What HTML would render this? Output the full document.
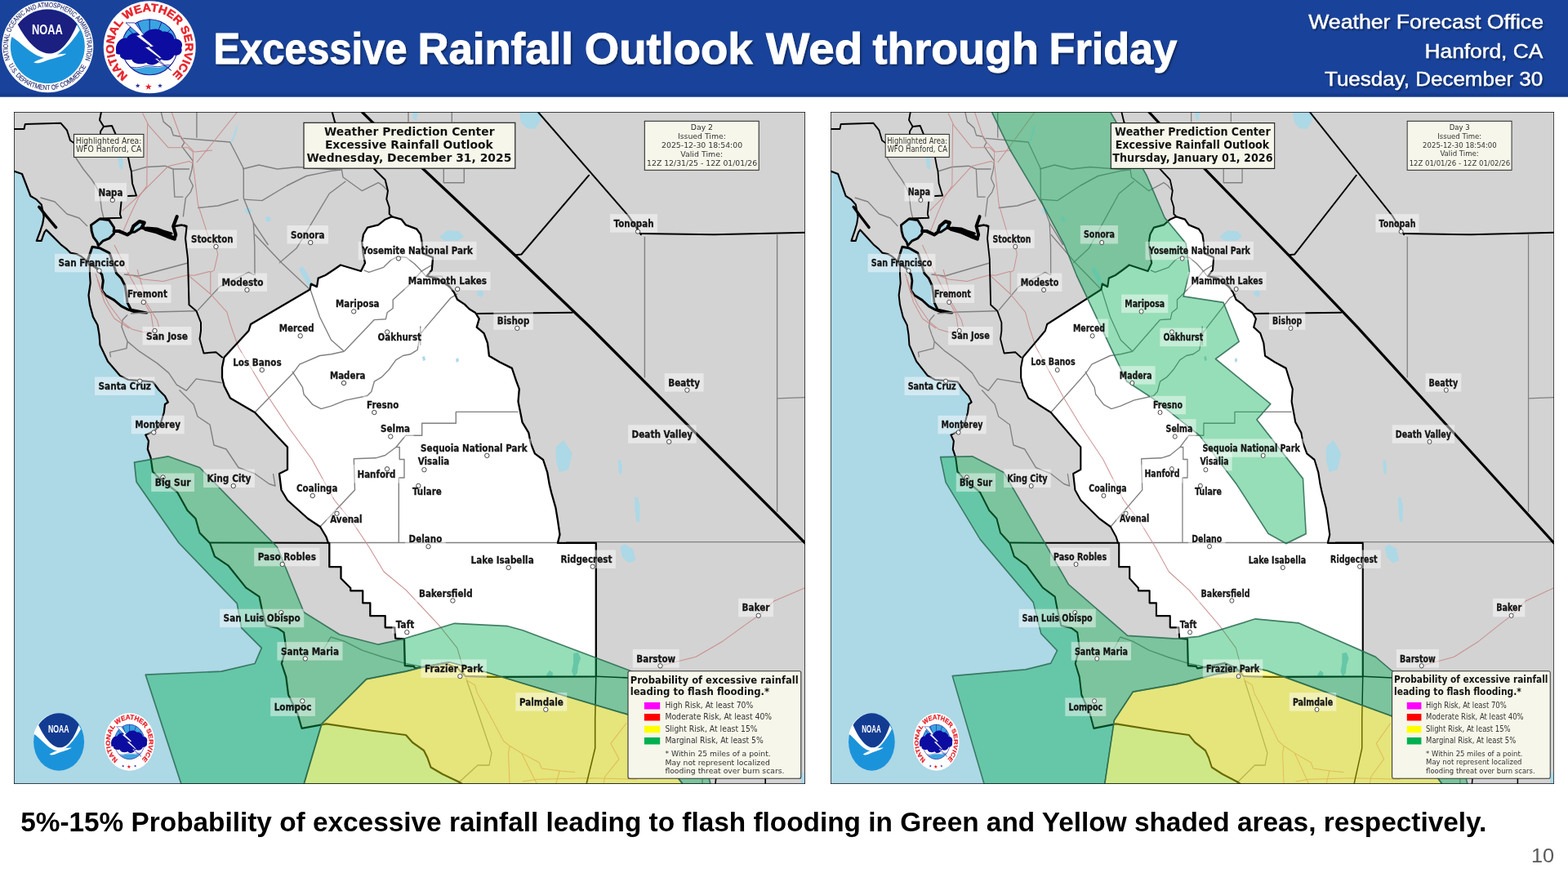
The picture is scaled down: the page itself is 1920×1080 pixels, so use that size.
<!DOCTYPE html>
<html><head><meta charset="utf-8"><title>Excessive Rainfall Outlook Wed through Friday</title>
<style>
html,body{margin:0;padding:0;}
body{width:1920px;height:1080px;position:relative;overflow:hidden;background:#ffffff;font-family:"Liberation Sans",sans-serif;}
.abs{position:absolute;display:block;}
</style></head>
<body>
<svg class="abs" style="left:0;top:0" width="1920" height="120" viewBox="0 0 1920 120">
  <defs><filter id="tsh" x="-5%" y="-20%" width="110%" height="150%"><feDropShadow dx="1.5" dy="2" stdDeviation="1.2" flood-color="#000" flood-opacity="0.45"/></filter></defs>
  <rect x="0" y="0" width="1920" height="118.5" fill="#19439b"/>
  <rect x="0" y="114.5" width="1920" height="4" fill="#143a8c"/>
  <g transform="translate(58.3,57.3)">
<circle r="56" fill="#ffffff"/>
<defs><path id="noaaTop" d="M-45.95,15.82 A48.6,48.6 0 1 1 45.67,16.62"/><path id="noaaBot" d="M-47.85,22.31 A52.8,52.8 0 0 0 47.46,23.15"/></defs>
<text font-family="Liberation Sans, sans-serif" font-size="8.4" fill="#262d6e" stroke="#262d6e" stroke-width="0.15"><textPath href="#noaaTop" textLength="184.8" lengthAdjust="spacingAndGlyphs">NATIONAL OCEANIC AND ATMOSPHERIC ADMINISTRATION</textPath></text>
<text font-family="Liberation Sans, sans-serif" font-size="8.4" fill="#262d6e" stroke="#262d6e" stroke-width="0.15"><textPath href="#noaaBot" textLength="117.9" lengthAdjust="spacingAndGlyphs">U.S. DEPARTMENT OF COMMERCE</textPath></text>
</g>
<g transform="translate(58.3,56.699999999999996) scale(1.0000,1.0000)">
  <circle r="45.5" fill="#1b93da"/>
  <path d="M-45,-12.3 C-34,-7 -18,14 0,14.5 C12,14 28,-2 39.5,-20 A45.5,45.5 0 0 0 -45,-12.3 Z" fill="#ffffff"/>
  <path d="M-36.6,-26.7 C-30,-14 -16,8 1.7,8.9 C18,9 30,-12 36.1,-27.3 A45.5,45.5 0 0 0 -36.6,-26.7 Z" fill="#1a1f80"/>
  <path d="M-17,19.5 C-6,13.5 8,9.5 23,9 C19,12.5 6,14.5 -4,18.5 C-9,20.5 -14,21.5 -17,19.5 Z" fill="#ffffff"/>
  <text x="-0.5" y="-15" text-anchor="middle" font-family="Liberation Sans, sans-serif" font-weight="bold" font-size="16" fill="#ffffff" textLength="37.8" lengthAdjust="spacingAndGlyphs">NOAA</text>
</g>
  <g transform="translate(183.2,57.7) scale(1.0000,1.0000)">
  <circle r="56.5" fill="#ffffff"/>
  <clipPath id="nwshc"><circle r="34"/></clipPath>
  <g clip-path="url(#nwshc)">
    <rect x="-35" y="-35" width="70" height="70" fill="#ffffff"/>
    <rect x="-35" y="-35" width="70" height="30" fill="#3aa4e0"/>
    <path d="M-35,27 C-26,23 -18,28 -9,25 C0,22 8,27 16,24 C24,21 30,25 35,23 L35,35 L-35,35 Z" fill="#3aa4e0"/>
    <path d="M-35,26 C-26,22 -18,27 -9,24 C0,21 8,26 16,23 C24,20 30,24 35,22" fill="none" stroke="#1b1b9a" stroke-width="0.8"/>
    <g stroke="#1b1b9a" stroke-width="1" fill="none"><path d="M0,-34 L0,-20"/><path d="M-15,-31 L-10,-19"/><path d="M15,-31 L10,-19"/><path d="M-26,-22 L-18,-14"/><path d="M26,-22 L18,-14"/></g>
  </g>
  <circle r="34" fill="none" stroke="#1b1b9a" stroke-width="1.1"/>
  <path d="M-41,6 C-43,-4 -36,-12 -28,-11 C-24,-18 -14,-19 -8,-15 C-4,-22 10,-25 16,-19 C22,-20 30,-16 30,-10 C37,-11 42,-5 39,1 C41,7 36,11 30,10 C28,16 20,18 14,15 C10,22 0,24 -4,19 C-10,22 -20,21 -22,15 C-28,17 -38,14 -36,9 C-40,9 -42,8 -41,6 Z" fill="#0c0ca0"/>
  <path d="M-29.2,-29.8 L-18.3,-29.8 L-6.9,-15.1 L-10.1,-14 L5.2,-0.9 L-0.3,0.2 L15,13.3 L9.5,14.4 L26.5,28.6 L6.3,14.4 L11.7,13.3 L-5.8,0.2 L0.8,-0.9 L-16.7,-14 L-12.3,-15.1 Z" fill="#ffffff" stroke="#1b1b9a" stroke-width="0.8" stroke-linejoin="round"/>
  <defs><path id="nwshT" d="M-26.36,34.98 A43.8,43.8 0 1 1 26.36,34.98"/></defs>
  <text font-family="Liberation Sans, sans-serif" font-weight="bold" font-size="13.6" fill="#e8232b" stroke="#e8232b" stroke-width="0.5"><textPath href="#nwshT" textLength="216.6" lengthAdjust="spacingAndGlyphs">NATIONAL WEATHER SERVICE</textPath></text>
  <g fill="#2b2b9c"><path d="M-14.5,44.4 L-13.8,46.3 L-11.7,46.4 L-13.3,47.7 L-12.8,49.6 L-14.5,48.5 L-16.2,49.6 L-15.7,47.7 L-17.3,46.4 L-15.2,46.3 Z"/><path d="M12.8,44.4 L13.5,46.3 L15.6,46.4 L14.0,47.7 L14.5,49.6 L12.8,48.5 L11.1,49.6 L11.6,47.7 L10.0,46.4 L12.1,46.3 Z"/></g>
  <path d="M-1.4,44.4 L-0.4,47.2 L2.6,47.3 L0.3,49.1 L1.1,52.0 L-1.4,50.4 L-3.9,52.0 L-3.1,49.1 L-5.4,47.3 L-2.4,47.2 Z" fill="#e8232b"/>
</g>
  <g font-family="Liberation Sans, sans-serif" font-weight="bold" font-size="53.4" fill="#ffffff" stroke="#ffffff" stroke-width="0.9" filter="url(#tsh)"><text x="261.4" y="78" textLength="237.2" lengthAdjust="spacingAndGlyphs">Excessive</text><text x="511.4" y="78" textLength="190.4" lengthAdjust="spacingAndGlyphs">Rainfall</text><text x="715.8" y="78" textLength="205.8" lengthAdjust="spacingAndGlyphs">Outlook</text><text x="938.0" y="78" textLength="118.2" lengthAdjust="spacingAndGlyphs">Wed</text><text x="1068.5" y="78" textLength="203.3" lengthAdjust="spacingAndGlyphs">through</text><text x="1284.5" y="78" textLength="156.7" lengthAdjust="spacingAndGlyphs">Friday</text></g>
  <g font-family="Liberation Sans, sans-serif" font-size="24.4" fill="#ffffff" stroke="#ffffff" stroke-width="0.35" text-anchor="end" filter="url(#tsh)">
    <text x="1890" y="35" textLength="287.8" lengthAdjust="spacingAndGlyphs">Weather Forecast Office</text>
    <text x="1889.2" y="70.5" textLength="144.6" lengthAdjust="spacingAndGlyphs">Hanford, CA</text>
    <text x="1889.2" y="104.5" textLength="267.2" lengthAdjust="spacingAndGlyphs">Tuesday, December 30</text>
  </g>
</svg>
<svg class="abs" style="left:17px;top:137px" width="969" height="823" viewBox="17 137 969 823" preserveAspectRatio="none">
<defs><clipPath id="clipL"><rect x="17" y="137" width="969" height="823"/></clipPath><filter id="softL" x="0" y="0" width="1" height="1" filterUnits="objectBoundingBox"><feConvolveMatrix order="3" kernelMatrix="1 3 1 3 9 3 1 3 1" divisor="25" edgeMode="duplicate" preserveAlpha="false"/></filter></defs>
<g><g clip-path="url(#clipL)" font-family="DejaVu Sans, sans-serif">
<rect x="17" y="137" width="969" height="823" fill="#d3d3d3"/>
<path d="M17.0,209.5 L27.0,213.0 L37.4,240.0 L44.8,244.4 L50.7,250.4 L52.2,257.8 L53.7,265.2 L52.2,274.1 L49.3,283.0 L44.8,294.8 L50.7,294.8 L52.2,290.4 L54.4,284.4 L56.7,281.5 L59.6,284.4 L64.1,288.9 L74.4,299.3 L81.9,305.2 L86.3,309.6 L93.7,311.1 L99.6,314.1 L107.0,320.0 L110.0,325.9 L110.0,336.3 L110.7,346.7 L108.5,361.5 L110.0,373.3 L114.0,388.1 L119.5,398.0 L121.5,410.0 L122.5,422.5 L132.0,442.5 L147.0,460.0 L157.0,465.0 L172.0,466.2 L187.0,467.5 L194.5,477.5 L202.0,485.0 L205.8,492.5 L202.0,495.0 L200.8,505.0 L197.0,517.5 L189.5,527.5 L178.2,532.5 L182.0,540.0 L180.8,550.0 L184.5,560.0 L187.0,577.5 L197.0,587.5 L217.0,602.5 L229.5,625.0 L239.5,635.0 L244.5,652.5 L257.0,665.0 L262.9,681.4 L279.3,692.3 L301.2,719.6 L317.5,730.6 L320.3,744.2 L325.8,766.1 L339.4,768.8 L347.6,774.3 L350.3,793.4 L344.8,812.5 L350.3,828.9 L353.1,850.8 L364.0,872.7 L369.5,891.8 L399.5,886.3 L454.2,894.5 L497.0,900.0 L505.0,909.0 L519.0,919.0 L523.5,928.0 L527.5,939.5 L542.0,948.0 L561.0,957.0 L566.0,960.0 L567.0,968.0 L8.0,968.0 L8.0,209.5 Z" fill="#add8e6"/>
<path d="M111.5,275.6 L121.9,268.1 L133.7,269.6 L139.6,278.5 L139.6,285.9 L133.7,291.9 L126.3,294.8 L120.4,300.7 L118.9,296.3 L114.4,290.4 L112.2,283.0 Z" fill="#add8e6" stroke="#000" stroke-width="3.0" stroke-linejoin="round"/>
<path d="M110.0,311.1 L113.0,302.2 L121.9,303.7 L133.7,309.6 L135.2,312.6 L142.6,334.8 L148.5,340.7 L153.0,349.6 L154.4,358.5 L155.9,370.4 L160.4,379.3 L179.6,383.0 L166.3,382.2 L157.4,379.3 L148.5,374.8 L139.6,367.4 L129.3,361.5 L124.8,355.6 L126.3,343.7 L124.8,336.3 L118.9,328.9 L111.5,323.0 L107.0,320.0 Z" fill="#add8e6" stroke="#000" stroke-width="3.0" stroke-linejoin="round"/>
<path d="M160.4,284.4 L163.3,277.0 L170.7,271.1 L176.7,272.6 L173.7,278.5 L165.0,284.0 Z" fill="#add8e6" stroke="#000" stroke-width="3.0" stroke-linejoin="round"/>
<path d="M272.0,450.0 L274.5,437.5 L304.5,405.0 L307.0,397.0 L379.5,354.5 L380.9,347.6 L388.0,351.1 L389.7,340.6 L398.5,337.0 L409.1,330.0 L417.0,324.5 L442.0,332.0 L447.0,322.0 L445.0,312.0 L443.3,297.0 L445.0,287.0 L450.0,278.7 L463.3,275.3 L471.7,268.7 L480.0,265.3 L491.7,268.7 L496.7,275.3 L510.0,280.3 L515.0,287.0 L516.7,297.0 L517.4,310.2 L530.1,315.3 L528.8,330.6 L522.5,338.2 L535.2,340.8 L550.5,351.0 L556.0,358.0 L560.0,366.7 L568.9,372.6 L574.8,378.5 L582.2,383.0 L586.7,390.4 L583.7,400.7 L592.6,408.1 L597.0,420.0 L598.9,435.7 L611.6,443.3 L626.9,450.9 L632.0,466.2 L635.8,476.4 L634.5,491.7 L637.1,504.4 L639.6,517.2 L647.3,529.9 L649.8,542.6 L654.9,555.4 L665.1,563.0 L670.2,578.3 L672.8,593.6 L675.3,603.8 L680.4,621.6 L682.9,636.9 L685.5,654.7 L682.9,664.9 L729.8,664.9 L729.8,828.3 L606.3,828.9 L570.0,828.0 L560.0,818.0 L545.0,812.0 L524.0,816.0 L508.3,818.3 L506.7,815.8 L495.8,815.0 L495.0,782.5 L484.2,781.7 L483.3,768.3 L471.7,768.3 L471.7,754.2 L453.3,754.2 L453.3,738.3 L444.2,738.3 L444.2,723.3 L429.2,723.3 L429.2,720.0 L417.5,708.3 L417.5,694.2 L403.3,694.2 L403.3,665.0 L402.0,665.0 L399.5,657.5 L392.0,645.0 L377.0,635.0 L352.0,612.5 L344.5,600.0 L342.0,580.0 L352.0,575.0 L352.0,547.5 L312.0,505.0 L282.0,487.5 L274.5,472.5 L272.0,462.5 Z" fill="#ffffff"/>
<path d="M680.4,548.0 L690.0,538.8 L700.8,555.0 L696.0,575.0 L685.0,578.3 L681.0,565.0 Z" fill="#add8e6"/>
<path d="M537.8,290.0 L548.0,282.2 L562.0,283.0 L568.3,290.0 L560.0,295.0 L545.0,295.0 Z" fill="#add8e6"/>
<path d="M636.0,137.0 L663.0,137.0 L662.0,148.0 L655.0,158.0 L645.0,157.0 L638.0,150.0 Z" fill="#add8e6"/>
<path d="M759.3,670.0 L765.0,666.4 L775.0,672.0 L778.4,686.0 L770.0,689.6 L762.0,682.0 Z" fill="#add8e6"/>
<path d="M281.0,176.0 L285.0,168.0 L289.0,155.0 L291.0,152.0 L290.0,160.0 L286.0,172.0 Z" fill="#add8e6"/>
<path d="M505.0,137.0 L511.7,137.0 L510.0,147.0 L506.0,146.0 Z" fill="#add8e6"/>
<path d="M702.0,800.0 L708.0,799.0 L711.0,806.0 L708.0,815.0 L707.0,824.0 L703.0,829.0 L700.0,822.0 L702.0,812.0 Z" fill="#add8e6"/>
<path d="M669.0,826.0 L673.0,820.7 L677.0,824.0 L676.0,831.7 L671.0,831.0 Z" fill="#add8e6"/>
<path d="M144.0,190.0 L148.0,188.0 L151.0,198.0 L150.0,208.0 L146.0,205.0 Z" fill="#add8e6"/>
<path d="M583.7,357.0 L590.0,355.0 L592.6,360.0 L589.0,363.7 L585.0,362.0 Z" fill="#add8e6"/>
<path d="M299.5,256.0 L305.0,254.5 L309.5,258.0 L306.0,262.0 L301.0,261.0 Z" fill="#add8e6"/>
<path d="M325.0,266.0 L329.0,264.5 L332.0,268.0 L330.0,272.0 L326.0,271.0 Z" fill="#add8e6"/>
<path d="M366.0,330.0 L370.0,326.0 L376.0,334.0 L381.0,345.0 L379.0,352.0 L374.0,344.0 Z" fill="#add8e6"/>
<path d="M980.0,946.0 L987.0,946.0 L987.0,961.0 L981.0,961.0 Z" fill="#add8e6"/>
<path d="M757.0,563.0 L760.0,563.0 L762.0,572.0 L761.0,581.0 L758.0,580.0 L757.0,571.0 Z" fill="#add8e6"/>
<path d="M777.0,609.0 L781.0,608.9 L783.6,620.0 L783.0,639.4 L779.0,638.0 L777.5,624.0 Z" fill="#add8e6"/>
<path d="M517.0,437.0 L520.0,436.0 L521.0,441.0 L518.0,442.0 Z" fill="#add8e6"/>
<path d="M558.0,440.0 L561.0,438.0 L562.0,442.0 L559.0,444.0 Z" fill="#add8e6"/>
<g fill="none" stroke="#808080" stroke-linejoin="round">
<path d="M49.5,242.0 L67.0,247.0 L82.0,262.0 L97.0,267.0 L107.0,277.0" stroke-width="1.40"/>
<path d="M92.0,192.0 L102.0,207.0 L112.0,219.5 L117.0,227.0 L122.0,237.0 L124.5,257.0 L127.0,267.0" stroke-width="1.40"/>
<path d="M162.0,209.5 L179.5,204.5 L202.0,203.2 L212.0,207.0 L232.0,207.0" stroke-width="1.40"/>
<path d="M212.0,207.0 L213.8,241.1 L224.3,241.1" stroke-width="1.40"/>
<path d="M240.9,137.0 L240.9,168.7" stroke-width="1.40"/>
<path d="M224.3,169.4 L281.7,174.0 L298.3,206.4 L298.3,242.6 L310.3,272.8 L311.8,300.0 L312.0,337.0" stroke-width="1.40"/>
<path d="M310.3,272.8 L328.4,300.0" stroke-width="1.40"/>
<path d="M297.0,207.0 L317.0,202.0 L339.5,207.0 L364.5,204.5 L417.0,208.2" stroke-width="1.40"/>
<path d="M242.0,254.5 L267.0,252.0 L292.0,244.5" stroke-width="1.40"/>
<path d="M197.2,137.0 L200.2,149.1 L209.2,156.6 L212.3,165.7 L221.3,167.2 L225.8,174.7 L222.8,179.3 L227.3,185.3 L231.9,191.3 L236.4,197.4 L234.9,207.9 L231.9,218.5 L236.4,227.5 L233.4,235.1 L227.3,242.6 L224.3,265.3" stroke-width="1.40"/>
<path d="M298.3,244.1 L320.9,245.6 L351.1,227.5 L375.2,215.5 L405.4,209.4 L419.0,207.9" stroke-width="1.40"/>
<path d="M418.3,207.0 L420.0,217.0 L443.3,233.7 L463.3,223.7 L468.3,227.0 L475.0,233.7" stroke-width="1.40"/>
<path d="M423.3,222.0 L403.3,237.0 L383.3,270.3 L363.3,303.7 L342.0,322.0" stroke-width="1.40"/>
<path d="M312.0,287.0 L345.0,322.0 L379.5,354.5" stroke-width="1.40"/>
<path d="M543.3,207.0 L543.3,223.7 L568.3,223.7 L568.3,207.0" stroke-width="1.40"/>
<path d="M553.3,137.0 L553.3,149.5" stroke-width="1.40"/>
<path d="M500.0,137.0 L500.0,149.5" stroke-width="1.40"/>
<path d="M789.4,289.8 L789.4,462.4" stroke-width="1.40"/>
<path d="M951.6,287.3 L951.6,626.7" stroke-width="1.40"/>
<path d="M951.6,487.9 L986.0,486.6" stroke-width="1.40"/>
<path d="M693.1,663.6 L986.0,663.6" stroke-width="1.40"/>
<path d="M860.0,940.0 L860.0,960.0" stroke-width="1.40"/>
<path d="M156.1,385.6 L150.1,391.7 L148.9,400.1 L152.5,409.7 L156.1,418.1 L154.9,426.6 L134.4,431.4 L135.6,437.4" stroke-width="1.40"/>
<path d="M156.1,418.1 L170.5,430.2 L192.2,444.6 L206.6,456.6 L216.3,471.1 L228.3,478.3 L240.3,463.9 L247.6,465.1 L271.6,468.7" stroke-width="1.40"/>
<path d="M219.5,477.5 L237.0,495.0 L242.0,510.0 L257.0,520.0 L262.0,545.0 L277.0,550.0 L292.0,572.5 L312.0,580.0 L329.5,592.5 L337.0,595.0 L334.5,580.0" stroke-width="1.40"/>
<path d="M160.0,384.0 L188.6,382.0 L240.3,380.8" stroke-width="1.40"/>
<path d="M152.0,336.0 L170.0,338.0 L200.0,330.0 L230.0,322.0" stroke-width="1.40"/>
<path d="M312.0,505.0 L359.5,456.2 L366.8,446.1 L391.5,435.5 L405.5,433.8 L421.4,430.3" stroke-width="1.40"/>
<path d="M380.0,354.6 L391.5,388.0 L405.5,416.2 L421.4,430.3" stroke-width="1.40"/>
<path d="M421.4,430.3 L458.3,391.6 L472.4,390.7 L474.1,382.8 L481.2,377.5 L481.2,366.9 L498.8,351.1 L516.4,331.8 L528.0,325.0" stroke-width="1.40"/>
<path d="M358.0,454.9 L370.4,474.2 L372.1,483.0 L382.7,495.3 L393.2,500.6 L405.5,497.1 L423.1,490.1 L449.5,484.8 L454.8,479.5 L458.3,467.2 L467.1,461.9 L475.9,453.1 L484.7,440.8 L493.5,435.5 L502.3,433.8 L511.1,428.5 L514.6,409.2 L514.8,400.0 L514.8,422.9" stroke-width="1.40"/>
<path d="M514.6,409.2 L521.6,400.4 L551.5,365.2 L560.0,359.9" stroke-width="1.40"/>
<path d="M392.0,645.0 L434.5,600.0 L433.3,561.7 L460.0,560.8 L471.7,557.5 L485.0,547.5 L489.2,547.5 L489.2,562.5 L495.0,562.5 L495.0,585.0 L488.3,585.0 L488.3,665.0" stroke-width="1.40"/>
<path d="M485.0,547.5 L496.7,533.3 L516.7,533.3 L516.7,518.3 L558.3,518.3 L558.3,504.4 L634.5,504.4" stroke-width="1.40"/>
<path d="M402.0,664.5 L682.9,664.5" stroke-width="1.40"/>
<path d="M571.5,833.0 L587.0,878.0 L602.0,922.0 L599.0,937.0 L585.0,937.0 L563.0,957.0 L561.0,960.0" stroke-width="1.26"/>
<path d="M242.2,380.0 L268.9,351.1 L304.4,333.3 L311.1,336.7" stroke-width="1.40"/>
<path d="M445.6,330.9 L451.7,333.3 L469.7,327.3 L478.1,318.9 L486.6,314.1 L497.4,315.3 L507.0,322.5 L514.2,329.7 L521.5,338.1 L540.7,338.1 L545.5,345.4 L550.3,352.6" stroke-width="1.40"/>
<path d="M405.0,780.0 L421.4,785.2 L443.2,796.1 L470.0,805.0 L497.0,812.5 L520.0,817.0" stroke-width="1.40"/>
<path d="M405.0,780.0 L398.0,792.0 L392.0,806.0" stroke-width="1.40"/>
</g>
<g fill="none" stroke="#c98e8e" stroke-linejoin="round">
<path d="M236.4,200.4 L242.4,250.2 L254.5,287.9 L264.4,302.0 L266.7,311.1 L262.2,331.1 L257.8,333.3 L257.8,360.0 L277.8,382.2 L283.0,400.0 L292.0,425.0 L329.5,487.5 L354.5,525.0 L382.0,562.5 L409.5,612.5 L432.0,640.0 L452.0,670.0 L470.0,700.0 L497.0,722.4 L538.0,766.1 L559.8,793.4 L571.5,833.0 L581.7,839.0 L584.6,849.2 L593.3,863.8 L605.0,885.6 L616.7,907.5 L624.0,913.3 L638.5,922.1 L660.4,933.8 L663.3,941.0 L686.7,944.0 L704.2,945.4" stroke-width="1.03"/>
<path d="M624.0,913.3 L622.5,922.1 L624.0,960.0" stroke-width="1.03"/>
<path d="M638.5,922.1 L653.1,951.3 L657.5,960.0" stroke-width="1.03"/>
<path d="M640.0,957.0 L657.5,954.2 L718.8,952.7 L780.0,954.2" stroke-width="1.03"/>
<path d="M685.2,944.0 L680.8,960.0" stroke-width="1.03"/>
<path d="M766.9,885.6 L747.9,910.4 L758.1,929.4 L740.6,951.3 L739.2,960.0" stroke-width="1.03"/>
<path d="M155.0,335.0 L175.0,342.0 L200.0,344.4 L216.7,340.0 L230.0,336.7 L237.8,337.2 L257.8,332.2" stroke-width="1.03"/>
<path d="M230.0,336.7 L257.8,360.0" stroke-width="1.03"/>
<path d="M170.0,239.6 L206.2,203.4 L231.9,197.4 L236.4,200.4" stroke-width="1.03"/>
<path d="M150.0,258.0 L170.0,239.6" stroke-width="1.03"/>
<path d="M290.7,137.0 L260.5,174.7 L240.9,198.9" stroke-width="1.03"/>
<path d="M174.5,138.5 L182.1,153.6 L206.2,180.8 L230.4,180.8 L236.4,186.0 L236.4,200.4" stroke-width="1.03"/>
<path d="M180.6,152.1 L179.8,227.5 L170.0,241.1 L160.0,262.0 L150.0,285.0" stroke-width="1.03"/>
<path d="M140.0,300.0 L150.0,320.0 L160.0,340.0 L170.0,358.0 L177.8,372.4 L185.0,384.4 L187.4,400.1 L189.2,404.9" stroke-width="1.03"/>
<path d="M117.0,335.0 L123.7,353.3 L133.7,373.3 L148.7,393.3 L162.0,403.3 L175.3,406.7 L188.6,406.1" stroke-width="1.03"/>
<path d="M119.0,342.0 L128.0,370.0 L140.0,390.0 L158.0,402.0" stroke-width="1.03"/>
<path d="M168.0,330.0 L174.0,350.0 L180.2,372.4 L192.2,391.7 L194.6,400.1" stroke-width="1.03"/>
<path d="M210.0,137.0 L222.0,170.0 L238.0,186.0 L260.0,184.0" stroke-width="1.03"/>
<path d="M808.5,815.3 L852.2,804.3 L885.0,785.2 L915.0,763.4 L928.7,753.8 L947.8,736.0 L986.0,719.6" stroke-width="1.03"/>
</g>
<g fill="none" stroke="#000" stroke-linejoin="round" stroke-linecap="round">
<path d="M17.0,209.5 L27.0,213.0 L37.4,240.0 L44.8,244.4 L50.7,250.4 L52.2,257.8 L53.7,265.2 L52.2,274.1 L49.3,283.0 L44.8,294.8 L50.7,294.8 L52.2,290.4 L54.4,284.4 L56.7,281.5 L59.6,284.4 L64.1,288.9 L74.4,299.3 L81.9,305.2 L86.3,309.6 L93.7,311.1 L99.6,314.1 L107.0,320.0 L110.0,325.9 L110.0,336.3 L110.7,346.7 L108.5,361.5 L110.0,373.3 L114.0,388.1 L119.5,398.0 L121.5,410.0 L122.5,422.5 L132.0,442.5 L147.0,460.0 L157.0,465.0 L172.0,466.2 L187.0,467.5 L194.5,477.5 L202.0,485.0 L205.8,492.5 L202.0,495.0 L200.8,505.0 L197.0,517.5 L189.5,527.5 L178.2,532.5 L182.0,540.0 L180.8,550.0 L184.5,560.0 L187.0,577.5 L197.0,587.5 L217.0,602.5 L229.5,625.0 L239.5,635.0 L244.5,652.5 L257.0,665.0 L262.9,681.4 L279.3,692.3 L301.2,719.6 L317.5,730.6 L320.3,744.2 L325.8,766.1 L339.4,768.8 L347.6,774.3 L350.3,793.4 L344.8,812.5 L350.3,828.9 L353.1,850.8 L364.0,872.7 L369.5,891.8 L399.5,886.3 L454.2,894.5 L497.0,900.0 L505.0,909.0 L519.0,919.0 L523.5,928.0 L527.5,939.5 L542.0,948.0 L561.0,957.0 L566.0,960.0" stroke-width="2.2"/>
<path d="M272.0,450.0 L274.5,437.5 L304.5,405.0 L307.0,397.0 L379.5,354.5 L380.9,347.6 L388.0,351.1 L389.7,340.6 L398.5,337.0 L409.1,330.0 L417.0,324.5 L442.0,332.0 L447.0,322.0 L445.0,312.0 L443.3,297.0 L445.0,287.0 L450.0,278.7 L463.3,275.3 L471.7,268.7 L480.0,265.3 L491.7,268.7 L496.7,275.3 L510.0,280.3 L515.0,287.0 L516.7,297.0 L517.4,310.2 L530.1,315.3 L528.8,330.6 L522.5,338.2 L535.2,340.8 L550.5,351.0 L556.0,358.0 L560.0,366.7 L568.9,372.6 L574.8,378.5 L582.2,383.0 L586.7,390.4 L583.7,400.7 L592.6,408.1 L597.0,420.0 L598.9,435.7 L611.6,443.3 L626.9,450.9 L632.0,466.2 L635.8,476.4 L634.5,491.7 L637.1,504.4 L639.6,517.2 L647.3,529.9 L649.8,542.6 L654.9,555.4 L665.1,563.0 L670.2,578.3 L672.8,593.6 L675.3,603.8 L680.4,621.6 L682.9,636.9 L685.5,654.7 L682.9,664.9 L729.8,664.9 L729.8,828.3 L606.3,828.9 L570.0,828.0 L560.0,818.0 L545.0,812.0 L524.0,816.0 L508.3,818.3 L506.7,815.8 L495.8,815.0 L495.0,782.5 L484.2,781.7 L483.3,768.3 L471.7,768.3 L471.7,754.2 L453.3,754.2 L453.3,738.3 L444.2,738.3 L444.2,723.3 L429.2,723.3 L429.2,720.0 L417.5,708.3 L417.5,694.2 L403.3,694.2 L403.3,665.0 L402.0,665.0 L399.5,657.5 L392.0,645.0 L377.0,635.0 L352.0,612.5 L344.5,600.0 L342.0,580.0 L352.0,575.0 L352.0,547.5 L312.0,505.0 L282.0,487.5 L274.5,472.5 L272.0,462.5 Z" stroke-width="2.3"/>
<path d="M17.0,158.0 L29.5,158.0 L30.8,152.0 L74.5,150.8 L82.0,159.5 L86.0,172.0 L90.5,175.0" stroke-width="2.0"/>
<path d="M124.0,137.0 L122.0,147.0 L127.0,155.0 L123.0,161.0 L123.0,165.0" stroke-width="2.0"/>
<path d="M127.0,155.0 L137.0,154.0 L141.9,165.0" stroke-width="2.0"/>
<path d="M156.9,192.4 L159.5,205.0 L160.8,209.5 L162.0,224.5 L167.0,239.5 L157.0,240.0" stroke-width="2.0"/>
<path d="M148.5,247.4 L147.0,262.2 L148.5,266.7 L123.3,267.4 L121.9,268.1" stroke-width="2.0"/>
<path d="M47.8,253.3 L58.0,266.0 L68.5,278.5" stroke-width="3.5"/>
<path d="M139.6,283.0 L145.6,283.0 L155.9,287.4 L160.4,284.4 L163.3,277.0 L170.7,271.1 L176.7,272.6 L173.7,278.5 L178.1,280.0 L193.0,281.5 L207.8,288.9 L213.7,291.9 L215.2,287.4 L212.2,277.0 L216.7,265.2" stroke-width="4.2"/>
<path d="M178.0,281.0 L190.0,284.0 L205.0,290.0 L214.0,293.0" stroke-width="3.5"/>
<path d="M180.0,279.0 L192.0,280.0 L200.0,283.0 L210.0,286.0" stroke-width="3.0"/>
<path d="M213.7,277.0 L222.6,275.6 L228.5,277.0" stroke-width="2.5"/>
<path d="M225.6,275.6 L228.5,278.5 L227.0,291.9 L230.0,317.0 L231.5,373.3 L240.4,380.7 L246.0,395.0 L246.0,405.0 L244.5,415.0 L249.5,432.5 L264.5,431.2 L272.0,437.5" stroke-width="2.0"/>
<path d="M406.7,137.0 L410.0,149.5 L458.3,207.0 L471.7,220.3 L475.0,233.7 L473.3,243.7 L476.7,253.7 L476.7,262.0 L480.0,265.3" stroke-width="2.0"/>
<path d="M443.3,137.0 L455.0,148.7 L518.3,207.0 L630.0,312.0 L722.0,400.0 L986.0,665.0" stroke-width="3.3"/>
<path d="M658.7,137.0 L769.5,264.4 L784.8,287.3" stroke-width="2.0"/>
<path d="M721.1,214.7 L638.4,311.5 L630.7,312.2" stroke-width="2.0"/>
<path d="M784.8,286.0 L874.0,287.3 L986.0,284.7" stroke-width="2.0"/>
<path d="M584.9,384.0 L700.8,382.8" stroke-width="2.0"/>
<path d="M258.0,664.6 L402.0,664.8" stroke-width="2.0"/>
<path d="M729.8,828.3 L728.7,880.0 L728.7,916.3 L718.1,960.0" stroke-width="1.6"/>
<path d="M878.0,940.0 L876.0,960.0" stroke-width="1.6"/>
<path d="M937.2,940.0 L937.2,960.0" stroke-width="1.6"/>
<path d="M729.8,828.3 L770.0,830.0" stroke-width="1.6"/>
</g>
<path d="M164.5,566.2 L205.8,558.8 L244.5,572.5 L339.5,670.0 L372.2,749.7 L415.9,777.0 L463.3,789.2 L493.3,782.5 L556.7,763.3 L621.7,766.7 L640.0,771.7 L770.2,820.7 L810.0,838.0 L850.0,880.0 L870.0,960.0 L836.0,960.0 L770.2,875.4 L640.0,836.7 L593.3,822.5 L550.0,810.8 L515.0,817.5 L497.0,822.1 L448.7,831.7 L394.0,886.3 L372.2,960.0 L221.9,960.0 L178.2,826.2 L271.1,822.1 L312.1,812.5 L320.3,793.4 L295.7,768.8 L290.2,738.8 L219.2,665.0 L167.0,590.0 Z" fill="#00b050" fill-opacity="0.41" stroke="#2a6a52" stroke-opacity="0.85" stroke-width="1.7" stroke-linejoin="round"/>
<path d="M372.2,960.0 L394.0,886.3 L448.7,831.7 L497.0,822.1 L515.0,817.5 L550.0,810.8 L593.3,822.5 L640.0,836.7 L770.2,875.4 L836.0,960.0 Z" fill="#ffff00" fill-opacity="0.41" stroke="#2a6a52" stroke-opacity="0.85" stroke-width="1.7" stroke-linejoin="round"/>
<rect x="116.0" y="224.0" width="39.0" height="22.5" fill="#ffffff" fill-opacity="0.45"/>
<rect x="229.5" y="281.5" width="60.5" height="22.5" fill="#ffffff" fill-opacity="0.45"/>
<rect x="351.5" y="276.0" width="50.5" height="22.5" fill="#ffffff" fill-opacity="0.45"/>
<rect x="267.0" y="334.5" width="60.0" height="22.5" fill="#ffffff" fill-opacity="0.45"/>
<rect x="67.0" y="310.8" width="90.5" height="22.5" fill="#ffffff" fill-opacity="0.45"/>
<rect x="151.5" y="348.5" width="58.0" height="22.5" fill="#ffffff" fill-opacity="0.45"/>
<rect x="438.7" y="295.8" width="144.8" height="22.5" fill="#ffffff" fill-opacity="0.45"/>
<rect x="495.3" y="332.9" width="105.2" height="22.5" fill="#ffffff" fill-opacity="0.45"/>
<rect x="604.3" y="381.3" width="48.5" height="22.5" fill="#ffffff" fill-opacity="0.45"/>
<rect x="747.0" y="262.1" width="58.1" height="22.5" fill="#ffffff" fill-opacity="0.45"/>
<rect x="406.5" y="360.6" width="62.5" height="22.5" fill="#ffffff" fill-opacity="0.45"/>
<rect x="337.2" y="390.5" width="51.9" height="22.5" fill="#ffffff" fill-opacity="0.45"/>
<rect x="280.8" y="432.0" width="68.5" height="22.5" fill="#ffffff" fill-opacity="0.45"/>
<rect x="458.1" y="401.6" width="62.4" height="22.5" fill="#ffffff" fill-opacity="0.45"/>
<rect x="399.5" y="448.2" width="52.4" height="22.5" fill="#ffffff" fill-opacity="0.45"/>
<rect x="444.5" y="484.8" width="48.3" height="22.5" fill="#ffffff" fill-opacity="0.45"/>
<rect x="174.5" y="400.0" width="60.0" height="22.5" fill="#ffffff" fill-opacity="0.45"/>
<rect x="116.0" y="461.5" width="73.5" height="22.5" fill="#ffffff" fill-opacity="0.45"/>
<rect x="160.8" y="508.8" width="64.8" height="22.5" fill="#ffffff" fill-opacity="0.45"/>
<rect x="185.2" y="579.5" width="52.8" height="22.5" fill="#ffffff" fill-opacity="0.45"/>
<rect x="249.0" y="574.5" width="63.0" height="22.5" fill="#ffffff" fill-opacity="0.45"/>
<rect x="358.5" y="586.5" width="59.5" height="22.5" fill="#ffffff" fill-opacity="0.45"/>
<rect x="433.0" y="569.0" width="56.0" height="22.5" fill="#ffffff" fill-opacity="0.45"/>
<rect x="399.8" y="624.0" width="48.5" height="22.5" fill="#ffffff" fill-opacity="0.45"/>
<rect x="461.5" y="513.2" width="45.0" height="22.5" fill="#ffffff" fill-opacity="0.45"/>
<rect x="510.6" y="537.3" width="139.6" height="22.5" fill="#ffffff" fill-opacity="0.45"/>
<rect x="507.3" y="553.9" width="47.4" height="22.5" fill="#ffffff" fill-opacity="0.45"/>
<rect x="500.4" y="590.3" width="44.9" height="22.5" fill="#ffffff" fill-opacity="0.45"/>
<rect x="496.1" y="648.6" width="49.7" height="22.5" fill="#ffffff" fill-opacity="0.45"/>
<rect x="813.7" y="457.1" width="47.9" height="22.5" fill="#ffffff" fill-opacity="0.45"/>
<rect x="769.1" y="520.3" width="83.6" height="22.5" fill="#ffffff" fill-opacity="0.45"/>
<rect x="311.2" y="670.8" width="80.2" height="22.5" fill="#ffffff" fill-opacity="0.45"/>
<rect x="269.1" y="745.7" width="103.1" height="22.5" fill="#ffffff" fill-opacity="0.45"/>
<rect x="339.4" y="786.1" width="80.1" height="22.5" fill="#ffffff" fill-opacity="0.45"/>
<rect x="331.2" y="854.4" width="54.7" height="22.5" fill="#ffffff" fill-opacity="0.45"/>
<rect x="572.1" y="674.1" width="86.1" height="22.5" fill="#ffffff" fill-opacity="0.45"/>
<rect x="681.9" y="673.5" width="72.0" height="22.5" fill="#ffffff" fill-opacity="0.45"/>
<rect x="508.5" y="715.1" width="74.6" height="22.5" fill="#ffffff" fill-opacity="0.45"/>
<rect x="480.3" y="753.2" width="31.5" height="22.5" fill="#ffffff" fill-opacity="0.45"/>
<rect x="515.5" y="807.4" width="80.4" height="22.5" fill="#ffffff" fill-opacity="0.45"/>
<rect x="631.4" y="848.1" width="62.9" height="22.5" fill="#ffffff" fill-opacity="0.45"/>
<rect x="774.8" y="795.1" width="56.9" height="22.5" fill="#ffffff" fill-opacity="0.45"/>
<rect x="904.1" y="732.8" width="42.9" height="22.5" fill="#ffffff" fill-opacity="0.45"/>
<circle cx="137.75" cy="245" r="2.7" fill="#ffffff" stroke="#444" stroke-width="1"/>
<circle cx="264.5" cy="302" r="2.7" fill="#ffffff" stroke="#444" stroke-width="1"/>
<circle cx="380.25" cy="297" r="2.7" fill="#ffffff" stroke="#444" stroke-width="1"/>
<circle cx="302.5" cy="355" r="2.7" fill="#ffffff" stroke="#444" stroke-width="1"/>
<circle cx="121.5" cy="331.5" r="2.7" fill="#ffffff" stroke="#444" stroke-width="1"/>
<circle cx="175.75" cy="370" r="2.7" fill="#ffffff" stroke="#444" stroke-width="1"/>
<circle cx="488" cy="316.5" r="2.7" fill="#ffffff" stroke="#444" stroke-width="1"/>
<circle cx="560.2" cy="354" r="2.7" fill="#ffffff" stroke="#444" stroke-width="1"/>
<circle cx="633.3" cy="401.9" r="2.7" fill="#ffffff" stroke="#444" stroke-width="1"/>
<circle cx="781" cy="283.5" r="2.7" fill="#ffffff" stroke="#444" stroke-width="1"/>
<circle cx="433.2" cy="381.4" r="2.7" fill="#ffffff" stroke="#444" stroke-width="1"/>
<circle cx="367.7" cy="411.3" r="2.7" fill="#ffffff" stroke="#444" stroke-width="1"/>
<circle cx="320.75" cy="453" r="2.7" fill="#ffffff" stroke="#444" stroke-width="1"/>
<circle cx="474.1" cy="406.5" r="2.7" fill="#ffffff" stroke="#444" stroke-width="1"/>
<circle cx="421" cy="469" r="2.7" fill="#ffffff" stroke="#444" stroke-width="1"/>
<circle cx="458.3" cy="505" r="2.7" fill="#ffffff" stroke="#444" stroke-width="1"/>
<circle cx="189.5" cy="405" r="2.7" fill="#ffffff" stroke="#444" stroke-width="1"/>
<circle cx="171.25" cy="466.75" r="2.7" fill="#ffffff" stroke="#444" stroke-width="1"/>
<circle cx="188.25" cy="529.5" r="2.7" fill="#ffffff" stroke="#444" stroke-width="1"/>
<circle cx="199.5" cy="584.5" r="2.7" fill="#ffffff" stroke="#444" stroke-width="1"/>
<circle cx="285.75" cy="595" r="2.7" fill="#ffffff" stroke="#444" stroke-width="1"/>
<circle cx="382.75" cy="607" r="2.7" fill="#ffffff" stroke="#444" stroke-width="1"/>
<circle cx="474" cy="574.25" r="2.7" fill="#ffffff" stroke="#444" stroke-width="1"/>
<circle cx="412.5" cy="628.75" r="2.7" fill="#ffffff" stroke="#444" stroke-width="1"/>
<circle cx="478.25" cy="534.5" r="2.7" fill="#ffffff" stroke="#444" stroke-width="1"/>
<circle cx="596.3" cy="557.9" r="2.7" fill="#ffffff" stroke="#444" stroke-width="1"/>
<circle cx="519.4" cy="575.2" r="2.7" fill="#ffffff" stroke="#444" stroke-width="1"/>
<circle cx="512.3" cy="594.9" r="2.7" fill="#ffffff" stroke="#444" stroke-width="1"/>
<circle cx="524.5" cy="669.2" r="2.7" fill="#ffffff" stroke="#444" stroke-width="1"/>
<circle cx="841.4" cy="477.7" r="2.7" fill="#ffffff" stroke="#444" stroke-width="1"/>
<circle cx="819.2" cy="540.9" r="2.7" fill="#ffffff" stroke="#444" stroke-width="1"/>
<circle cx="345.7" cy="691" r="2.7" fill="#ffffff" stroke="#444" stroke-width="1"/>
<circle cx="344.3" cy="750.2" r="2.7" fill="#ffffff" stroke="#444" stroke-width="1"/>
<circle cx="373.8" cy="806.5" r="2.7" fill="#ffffff" stroke="#444" stroke-width="1"/>
<circle cx="370.3" cy="858.4" r="2.7" fill="#ffffff" stroke="#444" stroke-width="1"/>
<circle cx="622.7" cy="695" r="2.7" fill="#ffffff" stroke="#444" stroke-width="1"/>
<circle cx="725.7" cy="693.7" r="2.7" fill="#ffffff" stroke="#444" stroke-width="1"/>
<circle cx="554.4" cy="735.5" r="2.7" fill="#ffffff" stroke="#444" stroke-width="1"/>
<circle cx="498.3" cy="774.2" r="2.7" fill="#ffffff" stroke="#444" stroke-width="1"/>
<circle cx="563.4" cy="828.1" r="2.7" fill="#ffffff" stroke="#444" stroke-width="1"/>
<circle cx="668.3" cy="868.8" r="2.7" fill="#ffffff" stroke="#444" stroke-width="1"/>
<circle cx="808.5" cy="815.3" r="2.7" fill="#ffffff" stroke="#444" stroke-width="1"/>
<circle cx="928.7" cy="753.8" r="2.7" fill="#ffffff" stroke="#444" stroke-width="1"/>
<g font-weight="bold" fill="#151515" stroke="#151515" stroke-width="0.3" font-size="11.8">
<text x="120.5" y="239.5" textLength="30.0" lengthAdjust="spacingAndGlyphs">Napa</text>
<text x="234.0" y="297.0" textLength="51.5" lengthAdjust="spacingAndGlyphs">Stockton</text>
<text x="356.0" y="291.5" textLength="41.5" lengthAdjust="spacingAndGlyphs">Sonora</text>
<text x="271.5" y="350.0" textLength="51.0" lengthAdjust="spacingAndGlyphs">Modesto</text>
<text x="71.5" y="326.2" textLength="81.5" lengthAdjust="spacingAndGlyphs">San Francisco</text>
<text x="156.0" y="364.0" textLength="49.0" lengthAdjust="spacingAndGlyphs">Fremont</text>
<text x="443.2" y="311.3" textLength="135.8" lengthAdjust="spacingAndGlyphs">Yosemite National Park</text>
<text x="499.8" y="348.4" textLength="96.2" lengthAdjust="spacingAndGlyphs">Mammoth Lakes</text>
<text x="608.8" y="396.8" textLength="39.5" lengthAdjust="spacingAndGlyphs">Bishop</text>
<text x="751.5" y="277.6" textLength="49.1" lengthAdjust="spacingAndGlyphs">Tonopah</text>
<text x="411.0" y="376.1" textLength="53.5" lengthAdjust="spacingAndGlyphs">Mariposa</text>
<text x="341.7" y="406.0" textLength="42.9" lengthAdjust="spacingAndGlyphs">Merced</text>
<text x="285.2" y="447.5" textLength="59.5" lengthAdjust="spacingAndGlyphs">Los Banos</text>
<text x="462.6" y="417.1" textLength="53.4" lengthAdjust="spacingAndGlyphs">Oakhurst</text>
<text x="404.0" y="463.7" textLength="43.4" lengthAdjust="spacingAndGlyphs">Madera</text>
<text x="449.0" y="500.3" textLength="39.3" lengthAdjust="spacingAndGlyphs">Fresno</text>
<text x="179.0" y="415.5" textLength="51.0" lengthAdjust="spacingAndGlyphs">San Jose</text>
<text x="120.5" y="477.0" textLength="64.5" lengthAdjust="spacingAndGlyphs">Santa Cruz</text>
<text x="165.2" y="524.2" textLength="55.8" lengthAdjust="spacingAndGlyphs">Monterey</text>
<text x="189.8" y="595.0" textLength="43.8" lengthAdjust="spacingAndGlyphs">Big Sur</text>
<text x="253.5" y="590.0" textLength="54.0" lengthAdjust="spacingAndGlyphs">King City</text>
<text x="363.0" y="602.0" textLength="50.5" lengthAdjust="spacingAndGlyphs">Coalinga</text>
<text x="437.5" y="584.5" textLength="47.0" lengthAdjust="spacingAndGlyphs">Hanford</text>
<text x="404.2" y="639.5" textLength="39.5" lengthAdjust="spacingAndGlyphs">Avenal</text>
<text x="466.0" y="528.8" textLength="36.0" lengthAdjust="spacingAndGlyphs">Selma</text>
<text x="515.1" y="552.8" textLength="130.6" lengthAdjust="spacingAndGlyphs">Sequoia National Park</text>
<text x="511.8" y="569.4" textLength="38.4" lengthAdjust="spacingAndGlyphs">Visalia</text>
<text x="504.9" y="605.8" textLength="35.9" lengthAdjust="spacingAndGlyphs">Tulare</text>
<text x="500.6" y="664.1" textLength="40.7" lengthAdjust="spacingAndGlyphs">Delano</text>
<text x="818.2" y="472.6" textLength="38.9" lengthAdjust="spacingAndGlyphs">Beatty</text>
<text x="773.6" y="535.8" textLength="74.6" lengthAdjust="spacingAndGlyphs">Death Valley</text>
<text x="315.7" y="686.3" textLength="71.2" lengthAdjust="spacingAndGlyphs">Paso Robles</text>
<text x="273.6" y="761.2" textLength="94.1" lengthAdjust="spacingAndGlyphs">San Luis Obispo</text>
<text x="343.9" y="801.6" textLength="71.1" lengthAdjust="spacingAndGlyphs">Santa Maria</text>
<text x="335.7" y="869.9" textLength="45.7" lengthAdjust="spacingAndGlyphs">Lompoc</text>
<text x="576.6" y="689.6" textLength="77.1" lengthAdjust="spacingAndGlyphs">Lake Isabella</text>
<text x="686.4" y="689.0" textLength="63.0" lengthAdjust="spacingAndGlyphs">Ridgecrest</text>
<text x="513.0" y="730.6" textLength="65.6" lengthAdjust="spacingAndGlyphs">Bakersfield</text>
<text x="484.8" y="768.7" textLength="22.5" lengthAdjust="spacingAndGlyphs">Taft</text>
<text x="520.0" y="822.9" textLength="71.4" lengthAdjust="spacingAndGlyphs">Frazier Park</text>
<text x="635.9" y="863.6" textLength="53.9" lengthAdjust="spacingAndGlyphs">Palmdale</text>
<text x="779.3" y="810.6" textLength="47.9" lengthAdjust="spacingAndGlyphs">Barstow</text>
<text x="908.6" y="748.3" textLength="33.9" lengthAdjust="spacingAndGlyphs">Baker</text>
</g>
<g transform="translate(72.1,908.4) scale(0.6813,0.7780)">
  <circle r="45.5" fill="#1b93da"/>
  <path d="M-45,-12.3 C-34,-7 -18,14 0,14.5 C12,14 28,-2 39.5,-20 A45.5,45.5 0 0 0 -45,-12.3 Z" fill="#ffffff"/>
  <path d="M-36.6,-26.7 C-30,-14 -16,8 1.7,8.9 C18,9 30,-12 36.1,-27.3 A45.5,45.5 0 0 0 -36.6,-26.7 Z" fill="#123c92"/>
  <path d="M-17,19.5 C-6,13.5 8,9.5 23,9 C19,12.5 6,14.5 -4,18.5 C-9,20.5 -14,21.5 -17,19.5 Z" fill="#ffffff"/>
  <text x="-0.5" y="-15" text-anchor="middle" font-family="Liberation Sans, sans-serif" font-weight="bold" font-size="16" fill="#ffffff" textLength="37.8" lengthAdjust="spacingAndGlyphs">NOAA</text>
</g>
<g transform="translate(158.6,908.4) scale(0.5451,0.6265)">
  <circle r="56.5" fill="#ffffff"/>
  <clipPath id="nwsmLc"><circle r="34"/></clipPath>
  <g clip-path="url(#nwsmLc)">
    <rect x="-35" y="-35" width="70" height="70" fill="#ffffff"/>
    <rect x="-35" y="-35" width="70" height="30" fill="#3aa4e0"/>
    <path d="M-35,27 C-26,23 -18,28 -9,25 C0,22 8,27 16,24 C24,21 30,25 35,23 L35,35 L-35,35 Z" fill="#3aa4e0"/>
    <path d="M-35,26 C-26,22 -18,27 -9,24 C0,21 8,26 16,23 C24,20 30,24 35,22" fill="none" stroke="#1b1b9a" stroke-width="0.8"/>
    <g stroke="#1b1b9a" stroke-width="1" fill="none"><path d="M0,-34 L0,-20"/><path d="M-15,-31 L-10,-19"/><path d="M15,-31 L10,-19"/><path d="M-26,-22 L-18,-14"/><path d="M26,-22 L18,-14"/></g>
  </g>
  <circle r="34" fill="none" stroke="#1b1b9a" stroke-width="1.1"/>
  <path d="M-41,6 C-43,-4 -36,-12 -28,-11 C-24,-18 -14,-19 -8,-15 C-4,-22 10,-25 16,-19 C22,-20 30,-16 30,-10 C37,-11 42,-5 39,1 C41,7 36,11 30,10 C28,16 20,18 14,15 C10,22 0,24 -4,19 C-10,22 -20,21 -22,15 C-28,17 -38,14 -36,9 C-40,9 -42,8 -41,6 Z" fill="#0c0ca0"/>
  <path d="M-29.2,-29.8 L-18.3,-29.8 L-6.9,-15.1 L-10.1,-14 L5.2,-0.9 L-0.3,0.2 L15,13.3 L9.5,14.4 L26.5,28.6 L6.3,14.4 L11.7,13.3 L-5.8,0.2 L0.8,-0.9 L-16.7,-14 L-12.3,-15.1 Z" fill="#ffffff" stroke="#1b1b9a" stroke-width="0.8" stroke-linejoin="round"/>
  <defs><path id="nwsmLT" d="M-26.36,34.98 A43.8,43.8 0 1 1 26.36,34.98"/></defs>
  <text font-family="Liberation Sans, sans-serif" font-weight="bold" font-size="13.6" fill="#e8232b" stroke="#e8232b" stroke-width="0.5"><textPath href="#nwsmLT" textLength="216.6" lengthAdjust="spacingAndGlyphs">NATIONAL WEATHER SERVICE</textPath></text>
  <g fill="#2b2b9c"><path d="M-14.5,44.4 L-13.8,46.3 L-11.7,46.4 L-13.3,47.7 L-12.8,49.6 L-14.5,48.5 L-16.2,49.6 L-15.7,47.7 L-17.3,46.4 L-15.2,46.3 Z"/><path d="M12.8,44.4 L13.5,46.3 L15.6,46.4 L14.0,47.7 L14.5,49.6 L12.8,48.5 L11.1,49.6 L11.6,47.7 L10.0,46.4 L12.1,46.3 Z"/></g>
  <path d="M-1.4,44.4 L-0.4,47.2 L2.6,47.3 L0.3,49.1 L1.1,52.0 L-1.4,50.4 L-3.9,52.0 L-3.1,49.1 L-5.4,47.3 L-2.4,47.2 Z" fill="#e8232b"/>
</g>
<rect x="90.5" y="164.4" width="85.4" height="28" fill="#f6f6ea" stroke="#222" stroke-width="1"/>
<text x="92.7" y="175.6" font-size="9.6" font-weight="normal" text-anchor="start" fill="#333" textLength="80.7" lengthAdjust="spacingAndGlyphs">Highlighted Area:</text>
<text x="92.9" y="185.8" font-size="9.6" font-weight="normal" text-anchor="start" fill="#333" textLength="80.5" lengthAdjust="spacingAndGlyphs">WFO Hanford, CA</text>
<rect x="372" y="150.3" width="258.8" height="55.9" fill="#f6f6ea" stroke="#222" stroke-width="1.2"/>
<text x="397.0" y="165.7" font-size="14.2" font-weight="bold" text-anchor="start" fill="#111" textLength="208.5" lengthAdjust="spacingAndGlyphs">Weather Prediction Center</text>
<text x="397.9" y="181.8" font-size="14.2" font-weight="bold" text-anchor="start" fill="#111" textLength="205.9" lengthAdjust="spacingAndGlyphs">Excessive Rainfall Outlook</text>
<text x="375.4" y="197.6" font-size="14.2" font-weight="bold" text-anchor="start" fill="#111" textLength="250.9" lengthAdjust="spacingAndGlyphs">Wednesday, December 31, 2025</text>
<rect x="789.3" y="148.3" width="139.9" height="60" fill="#f6f6ea" stroke="#222" stroke-width="1"/>
<text x="859.4" y="158.6" font-size="9" font-weight="normal" text-anchor="middle" fill="#2a2a2a" textLength="27.2" lengthAdjust="spacingAndGlyphs">Day 2</text>
<text x="859.4" y="169.8" font-size="9" font-weight="normal" text-anchor="middle" fill="#333" textLength="58.9" lengthAdjust="spacingAndGlyphs">Issued Time:</text>
<text x="859.6" y="180.9" font-size="9" font-weight="normal" text-anchor="middle" fill="#333" textLength="99.1" lengthAdjust="spacingAndGlyphs">2025-12-30 18:54:00</text>
<text x="859.2" y="191.5" font-size="9" font-weight="normal" text-anchor="middle" fill="#333" textLength="51.8" lengthAdjust="spacingAndGlyphs">Valid Time:</text>
<text x="859.6" y="202.6" font-size="9" font-weight="normal" text-anchor="middle" fill="#333" textLength="135.1" lengthAdjust="spacingAndGlyphs">12Z 12/31/25 - 12Z 01/01/26</text>
<rect x="769" y="821.7" width="211.8" height="131.6" rx="2" fill="#f6f6ea" stroke="#333" stroke-width="1.1"/>
<text x="771.7" y="836.5" font-size="12.6" font-weight="bold" text-anchor="start" fill="#111" textLength="206.0" lengthAdjust="spacingAndGlyphs">Probability of excessive rainfall</text>
<text x="771.7" y="851.2" font-size="12.6" font-weight="bold" text-anchor="start" fill="#111" textLength="170.4" lengthAdjust="spacingAndGlyphs">leading to flash flooding.*</text>
<rect x="788.9" y="860" width="19.3" height="8.5" fill="#ff00ff"/>
<text x="814.4" y="867.4" font-size="9.8" font-weight="normal" text-anchor="start" fill="#333" textLength="107.9" lengthAdjust="spacingAndGlyphs">High Risk, At least 70%</text>
<rect x="788.9" y="874" width="19.3" height="8.5" fill="#ff0000"/>
<text x="814.4" y="881.4" font-size="9.8" font-weight="normal" text-anchor="start" fill="#333" textLength="130.7" lengthAdjust="spacingAndGlyphs">Moderate Risk, At least 40%</text>
<rect x="788.9" y="888.8" width="19.3" height="8.5" fill="#ffff00"/>
<text x="814.4" y="896.2" font-size="9.8" font-weight="normal" text-anchor="start" fill="#333" textLength="113.2" lengthAdjust="spacingAndGlyphs">Slight Risk, At least 15%</text>
<rect x="788.9" y="903" width="19.3" height="8.5" fill="#00b050"/>
<text x="814.4" y="910.4" font-size="9.8" font-weight="normal" text-anchor="start" fill="#333" textLength="120.4" lengthAdjust="spacingAndGlyphs">Marginal Risk, At least 5%</text>
<text x="814.4" y="925.7" font-size="9.4" font-weight="normal" text-anchor="start" fill="#333" textLength="129.4" lengthAdjust="spacingAndGlyphs">* Within 25 miles of a point.</text>
<text x="814.4" y="936.5" font-size="9.4" font-weight="normal" text-anchor="start" fill="#333" textLength="128.4" lengthAdjust="spacingAndGlyphs">May not represent localized</text>
<text x="814.4" y="947.2" font-size="9.4" font-weight="normal" text-anchor="start" fill="#333" textLength="146.1" lengthAdjust="spacingAndGlyphs">flooding threat over burn scars.</text>
</g>
<rect x="17" y="137" width="969" height="823" fill="none" stroke="#111" stroke-width="1.5"/>
</g>
</svg>
<svg class="abs" style="left:1017px;top:137px" width="886" height="823" viewBox="17 137 969 823" preserveAspectRatio="none">
<defs><clipPath id="clipR"><rect x="17" y="137" width="969" height="823"/></clipPath><filter id="softR" x="0" y="0" width="1" height="1" filterUnits="objectBoundingBox"><feConvolveMatrix order="3" kernelMatrix="1 3 1 3 9 3 1 3 1" divisor="25" edgeMode="duplicate" preserveAlpha="false"/></filter></defs>
<g><g clip-path="url(#clipR)" font-family="DejaVu Sans, sans-serif">
<rect x="17" y="137" width="969" height="823" fill="#d3d3d3"/>
<path d="M17.0,209.5 L27.0,213.0 L37.4,240.0 L44.8,244.4 L50.7,250.4 L52.2,257.8 L53.7,265.2 L52.2,274.1 L49.3,283.0 L44.8,294.8 L50.7,294.8 L52.2,290.4 L54.4,284.4 L56.7,281.5 L59.6,284.4 L64.1,288.9 L74.4,299.3 L81.9,305.2 L86.3,309.6 L93.7,311.1 L99.6,314.1 L107.0,320.0 L110.0,325.9 L110.0,336.3 L110.7,346.7 L108.5,361.5 L110.0,373.3 L114.0,388.1 L119.5,398.0 L121.5,410.0 L122.5,422.5 L132.0,442.5 L147.0,460.0 L157.0,465.0 L172.0,466.2 L187.0,467.5 L194.5,477.5 L202.0,485.0 L205.8,492.5 L202.0,495.0 L200.8,505.0 L197.0,517.5 L189.5,527.5 L178.2,532.5 L182.0,540.0 L180.8,550.0 L184.5,560.0 L187.0,577.5 L197.0,587.5 L217.0,602.5 L229.5,625.0 L239.5,635.0 L244.5,652.5 L257.0,665.0 L262.9,681.4 L279.3,692.3 L301.2,719.6 L317.5,730.6 L320.3,744.2 L325.8,766.1 L339.4,768.8 L347.6,774.3 L350.3,793.4 L344.8,812.5 L350.3,828.9 L353.1,850.8 L364.0,872.7 L369.5,891.8 L399.5,886.3 L454.2,894.5 L497.0,900.0 L505.0,909.0 L519.0,919.0 L523.5,928.0 L527.5,939.5 L542.0,948.0 L561.0,957.0 L566.0,960.0 L567.0,968.0 L8.0,968.0 L8.0,209.5 Z" fill="#add8e6"/>
<path d="M111.5,275.6 L121.9,268.1 L133.7,269.6 L139.6,278.5 L139.6,285.9 L133.7,291.9 L126.3,294.8 L120.4,300.7 L118.9,296.3 L114.4,290.4 L112.2,283.0 Z" fill="#add8e6" stroke="#000" stroke-width="3.0" stroke-linejoin="round"/>
<path d="M110.0,311.1 L113.0,302.2 L121.9,303.7 L133.7,309.6 L135.2,312.6 L142.6,334.8 L148.5,340.7 L153.0,349.6 L154.4,358.5 L155.9,370.4 L160.4,379.3 L179.6,383.0 L166.3,382.2 L157.4,379.3 L148.5,374.8 L139.6,367.4 L129.3,361.5 L124.8,355.6 L126.3,343.7 L124.8,336.3 L118.9,328.9 L111.5,323.0 L107.0,320.0 Z" fill="#add8e6" stroke="#000" stroke-width="3.0" stroke-linejoin="round"/>
<path d="M160.4,284.4 L163.3,277.0 L170.7,271.1 L176.7,272.6 L173.7,278.5 L165.0,284.0 Z" fill="#add8e6" stroke="#000" stroke-width="3.0" stroke-linejoin="round"/>
<path d="M272.0,450.0 L274.5,437.5 L304.5,405.0 L307.0,397.0 L379.5,354.5 L380.9,347.6 L388.0,351.1 L389.7,340.6 L398.5,337.0 L409.1,330.0 L417.0,324.5 L442.0,332.0 L447.0,322.0 L445.0,312.0 L443.3,297.0 L445.0,287.0 L450.0,278.7 L463.3,275.3 L471.7,268.7 L480.0,265.3 L491.7,268.7 L496.7,275.3 L510.0,280.3 L515.0,287.0 L516.7,297.0 L517.4,310.2 L530.1,315.3 L528.8,330.6 L522.5,338.2 L535.2,340.8 L550.5,351.0 L556.0,358.0 L560.0,366.7 L568.9,372.6 L574.8,378.5 L582.2,383.0 L586.7,390.4 L583.7,400.7 L592.6,408.1 L597.0,420.0 L598.9,435.7 L611.6,443.3 L626.9,450.9 L632.0,466.2 L635.8,476.4 L634.5,491.7 L637.1,504.4 L639.6,517.2 L647.3,529.9 L649.8,542.6 L654.9,555.4 L665.1,563.0 L670.2,578.3 L672.8,593.6 L675.3,603.8 L680.4,621.6 L682.9,636.9 L685.5,654.7 L682.9,664.9 L729.8,664.9 L729.8,828.3 L606.3,828.9 L570.0,828.0 L560.0,818.0 L545.0,812.0 L524.0,816.0 L508.3,818.3 L506.7,815.8 L495.8,815.0 L495.0,782.5 L484.2,781.7 L483.3,768.3 L471.7,768.3 L471.7,754.2 L453.3,754.2 L453.3,738.3 L444.2,738.3 L444.2,723.3 L429.2,723.3 L429.2,720.0 L417.5,708.3 L417.5,694.2 L403.3,694.2 L403.3,665.0 L402.0,665.0 L399.5,657.5 L392.0,645.0 L377.0,635.0 L352.0,612.5 L344.5,600.0 L342.0,580.0 L352.0,575.0 L352.0,547.5 L312.0,505.0 L282.0,487.5 L274.5,472.5 L272.0,462.5 Z" fill="#ffffff"/>
<path d="M680.4,548.0 L690.0,538.8 L700.8,555.0 L696.0,575.0 L685.0,578.3 L681.0,565.0 Z" fill="#add8e6"/>
<path d="M537.8,290.0 L548.0,282.2 L562.0,283.0 L568.3,290.0 L560.0,295.0 L545.0,295.0 Z" fill="#add8e6"/>
<path d="M636.0,137.0 L663.0,137.0 L662.0,148.0 L655.0,158.0 L645.0,157.0 L638.0,150.0 Z" fill="#add8e6"/>
<path d="M759.3,670.0 L765.0,666.4 L775.0,672.0 L778.4,686.0 L770.0,689.6 L762.0,682.0 Z" fill="#add8e6"/>
<path d="M281.0,176.0 L285.0,168.0 L289.0,155.0 L291.0,152.0 L290.0,160.0 L286.0,172.0 Z" fill="#add8e6"/>
<path d="M505.0,137.0 L511.7,137.0 L510.0,147.0 L506.0,146.0 Z" fill="#add8e6"/>
<path d="M702.0,800.0 L708.0,799.0 L711.0,806.0 L708.0,815.0 L707.0,824.0 L703.0,829.0 L700.0,822.0 L702.0,812.0 Z" fill="#add8e6"/>
<path d="M669.0,826.0 L673.0,820.7 L677.0,824.0 L676.0,831.7 L671.0,831.0 Z" fill="#add8e6"/>
<path d="M144.0,190.0 L148.0,188.0 L151.0,198.0 L150.0,208.0 L146.0,205.0 Z" fill="#add8e6"/>
<path d="M583.7,357.0 L590.0,355.0 L592.6,360.0 L589.0,363.7 L585.0,362.0 Z" fill="#add8e6"/>
<path d="M299.5,256.0 L305.0,254.5 L309.5,258.0 L306.0,262.0 L301.0,261.0 Z" fill="#add8e6"/>
<path d="M325.0,266.0 L329.0,264.5 L332.0,268.0 L330.0,272.0 L326.0,271.0 Z" fill="#add8e6"/>
<path d="M366.0,330.0 L370.0,326.0 L376.0,334.0 L381.0,345.0 L379.0,352.0 L374.0,344.0 Z" fill="#add8e6"/>
<path d="M980.0,946.0 L987.0,946.0 L987.0,961.0 L981.0,961.0 Z" fill="#add8e6"/>
<path d="M757.0,563.0 L760.0,563.0 L762.0,572.0 L761.0,581.0 L758.0,580.0 L757.0,571.0 Z" fill="#add8e6"/>
<path d="M777.0,609.0 L781.0,608.9 L783.6,620.0 L783.0,639.4 L779.0,638.0 L777.5,624.0 Z" fill="#add8e6"/>
<path d="M517.0,437.0 L520.0,436.0 L521.0,441.0 L518.0,442.0 Z" fill="#add8e6"/>
<path d="M558.0,440.0 L561.0,438.0 L562.0,442.0 L559.0,444.0 Z" fill="#add8e6"/>
<g fill="none" stroke="#808080" stroke-linejoin="round">
<path d="M49.5,242.0 L67.0,247.0 L82.0,262.0 L97.0,267.0 L107.0,277.0" stroke-width="1.40"/>
<path d="M92.0,192.0 L102.0,207.0 L112.0,219.5 L117.0,227.0 L122.0,237.0 L124.5,257.0 L127.0,267.0" stroke-width="1.40"/>
<path d="M162.0,209.5 L179.5,204.5 L202.0,203.2 L212.0,207.0 L232.0,207.0" stroke-width="1.40"/>
<path d="M212.0,207.0 L213.8,241.1 L224.3,241.1" stroke-width="1.40"/>
<path d="M240.9,137.0 L240.9,168.7" stroke-width="1.40"/>
<path d="M224.3,169.4 L281.7,174.0 L298.3,206.4 L298.3,242.6 L310.3,272.8 L311.8,300.0 L312.0,337.0" stroke-width="1.40"/>
<path d="M310.3,272.8 L328.4,300.0" stroke-width="1.40"/>
<path d="M297.0,207.0 L317.0,202.0 L339.5,207.0 L364.5,204.5 L417.0,208.2" stroke-width="1.40"/>
<path d="M242.0,254.5 L267.0,252.0 L292.0,244.5" stroke-width="1.40"/>
<path d="M197.2,137.0 L200.2,149.1 L209.2,156.6 L212.3,165.7 L221.3,167.2 L225.8,174.7 L222.8,179.3 L227.3,185.3 L231.9,191.3 L236.4,197.4 L234.9,207.9 L231.9,218.5 L236.4,227.5 L233.4,235.1 L227.3,242.6 L224.3,265.3" stroke-width="1.40"/>
<path d="M298.3,244.1 L320.9,245.6 L351.1,227.5 L375.2,215.5 L405.4,209.4 L419.0,207.9" stroke-width="1.40"/>
<path d="M418.3,207.0 L420.0,217.0 L443.3,233.7 L463.3,223.7 L468.3,227.0 L475.0,233.7" stroke-width="1.40"/>
<path d="M423.3,222.0 L403.3,237.0 L383.3,270.3 L363.3,303.7 L342.0,322.0" stroke-width="1.40"/>
<path d="M312.0,287.0 L345.0,322.0 L379.5,354.5" stroke-width="1.40"/>
<path d="M543.3,207.0 L543.3,223.7 L568.3,223.7 L568.3,207.0" stroke-width="1.40"/>
<path d="M553.3,137.0 L553.3,149.5" stroke-width="1.40"/>
<path d="M500.0,137.0 L500.0,149.5" stroke-width="1.40"/>
<path d="M789.4,289.8 L789.4,462.4" stroke-width="1.40"/>
<path d="M951.6,287.3 L951.6,626.7" stroke-width="1.40"/>
<path d="M951.6,487.9 L986.0,486.6" stroke-width="1.40"/>
<path d="M693.1,663.6 L986.0,663.6" stroke-width="1.40"/>
<path d="M860.0,940.0 L860.0,960.0" stroke-width="1.40"/>
<path d="M156.1,385.6 L150.1,391.7 L148.9,400.1 L152.5,409.7 L156.1,418.1 L154.9,426.6 L134.4,431.4 L135.6,437.4" stroke-width="1.40"/>
<path d="M156.1,418.1 L170.5,430.2 L192.2,444.6 L206.6,456.6 L216.3,471.1 L228.3,478.3 L240.3,463.9 L247.6,465.1 L271.6,468.7" stroke-width="1.40"/>
<path d="M219.5,477.5 L237.0,495.0 L242.0,510.0 L257.0,520.0 L262.0,545.0 L277.0,550.0 L292.0,572.5 L312.0,580.0 L329.5,592.5 L337.0,595.0 L334.5,580.0" stroke-width="1.40"/>
<path d="M160.0,384.0 L188.6,382.0 L240.3,380.8" stroke-width="1.40"/>
<path d="M152.0,336.0 L170.0,338.0 L200.0,330.0 L230.0,322.0" stroke-width="1.40"/>
<path d="M312.0,505.0 L359.5,456.2 L366.8,446.1 L391.5,435.5 L405.5,433.8 L421.4,430.3" stroke-width="1.40"/>
<path d="M380.0,354.6 L391.5,388.0 L405.5,416.2 L421.4,430.3" stroke-width="1.40"/>
<path d="M421.4,430.3 L458.3,391.6 L472.4,390.7 L474.1,382.8 L481.2,377.5 L481.2,366.9 L498.8,351.1 L516.4,331.8 L528.0,325.0" stroke-width="1.40"/>
<path d="M358.0,454.9 L370.4,474.2 L372.1,483.0 L382.7,495.3 L393.2,500.6 L405.5,497.1 L423.1,490.1 L449.5,484.8 L454.8,479.5 L458.3,467.2 L467.1,461.9 L475.9,453.1 L484.7,440.8 L493.5,435.5 L502.3,433.8 L511.1,428.5 L514.6,409.2 L514.8,400.0 L514.8,422.9" stroke-width="1.40"/>
<path d="M514.6,409.2 L521.6,400.4 L551.5,365.2 L560.0,359.9" stroke-width="1.40"/>
<path d="M392.0,645.0 L434.5,600.0 L433.3,561.7 L460.0,560.8 L471.7,557.5 L485.0,547.5 L489.2,547.5 L489.2,562.5 L495.0,562.5 L495.0,585.0 L488.3,585.0 L488.3,665.0" stroke-width="1.40"/>
<path d="M485.0,547.5 L496.7,533.3 L516.7,533.3 L516.7,518.3 L558.3,518.3 L558.3,504.4 L634.5,504.4" stroke-width="1.40"/>
<path d="M402.0,664.5 L682.9,664.5" stroke-width="1.40"/>
<path d="M571.5,833.0 L587.0,878.0 L602.0,922.0 L599.0,937.0 L585.0,937.0 L563.0,957.0 L561.0,960.0" stroke-width="1.26"/>
<path d="M242.2,380.0 L268.9,351.1 L304.4,333.3 L311.1,336.7" stroke-width="1.40"/>
<path d="M445.6,330.9 L451.7,333.3 L469.7,327.3 L478.1,318.9 L486.6,314.1 L497.4,315.3 L507.0,322.5 L514.2,329.7 L521.5,338.1 L540.7,338.1 L545.5,345.4 L550.3,352.6" stroke-width="1.40"/>
<path d="M405.0,780.0 L421.4,785.2 L443.2,796.1 L470.0,805.0 L497.0,812.5 L520.0,817.0" stroke-width="1.40"/>
<path d="M405.0,780.0 L398.0,792.0 L392.0,806.0" stroke-width="1.40"/>
</g>
<g fill="none" stroke="#c98e8e" stroke-linejoin="round">
<path d="M236.4,200.4 L242.4,250.2 L254.5,287.9 L264.4,302.0 L266.7,311.1 L262.2,331.1 L257.8,333.3 L257.8,360.0 L277.8,382.2 L283.0,400.0 L292.0,425.0 L329.5,487.5 L354.5,525.0 L382.0,562.5 L409.5,612.5 L432.0,640.0 L452.0,670.0 L470.0,700.0 L497.0,722.4 L538.0,766.1 L559.8,793.4 L571.5,833.0 L581.7,839.0 L584.6,849.2 L593.3,863.8 L605.0,885.6 L616.7,907.5 L624.0,913.3 L638.5,922.1 L660.4,933.8 L663.3,941.0 L686.7,944.0 L704.2,945.4" stroke-width="1.03"/>
<path d="M624.0,913.3 L622.5,922.1 L624.0,960.0" stroke-width="1.03"/>
<path d="M638.5,922.1 L653.1,951.3 L657.5,960.0" stroke-width="1.03"/>
<path d="M640.0,957.0 L657.5,954.2 L718.8,952.7 L780.0,954.2" stroke-width="1.03"/>
<path d="M685.2,944.0 L680.8,960.0" stroke-width="1.03"/>
<path d="M766.9,885.6 L747.9,910.4 L758.1,929.4 L740.6,951.3 L739.2,960.0" stroke-width="1.03"/>
<path d="M155.0,335.0 L175.0,342.0 L200.0,344.4 L216.7,340.0 L230.0,336.7 L237.8,337.2 L257.8,332.2" stroke-width="1.03"/>
<path d="M230.0,336.7 L257.8,360.0" stroke-width="1.03"/>
<path d="M170.0,239.6 L206.2,203.4 L231.9,197.4 L236.4,200.4" stroke-width="1.03"/>
<path d="M150.0,258.0 L170.0,239.6" stroke-width="1.03"/>
<path d="M290.7,137.0 L260.5,174.7 L240.9,198.9" stroke-width="1.03"/>
<path d="M174.5,138.5 L182.1,153.6 L206.2,180.8 L230.4,180.8 L236.4,186.0 L236.4,200.4" stroke-width="1.03"/>
<path d="M180.6,152.1 L179.8,227.5 L170.0,241.1 L160.0,262.0 L150.0,285.0" stroke-width="1.03"/>
<path d="M140.0,300.0 L150.0,320.0 L160.0,340.0 L170.0,358.0 L177.8,372.4 L185.0,384.4 L187.4,400.1 L189.2,404.9" stroke-width="1.03"/>
<path d="M117.0,335.0 L123.7,353.3 L133.7,373.3 L148.7,393.3 L162.0,403.3 L175.3,406.7 L188.6,406.1" stroke-width="1.03"/>
<path d="M119.0,342.0 L128.0,370.0 L140.0,390.0 L158.0,402.0" stroke-width="1.03"/>
<path d="M168.0,330.0 L174.0,350.0 L180.2,372.4 L192.2,391.7 L194.6,400.1" stroke-width="1.03"/>
<path d="M210.0,137.0 L222.0,170.0 L238.0,186.0 L260.0,184.0" stroke-width="1.03"/>
<path d="M808.5,815.3 L852.2,804.3 L885.0,785.2 L915.0,763.4 L928.7,753.8 L947.8,736.0 L986.0,719.6" stroke-width="1.03"/>
</g>
<g fill="none" stroke="#000" stroke-linejoin="round" stroke-linecap="round">
<path d="M17.0,209.5 L27.0,213.0 L37.4,240.0 L44.8,244.4 L50.7,250.4 L52.2,257.8 L53.7,265.2 L52.2,274.1 L49.3,283.0 L44.8,294.8 L50.7,294.8 L52.2,290.4 L54.4,284.4 L56.7,281.5 L59.6,284.4 L64.1,288.9 L74.4,299.3 L81.9,305.2 L86.3,309.6 L93.7,311.1 L99.6,314.1 L107.0,320.0 L110.0,325.9 L110.0,336.3 L110.7,346.7 L108.5,361.5 L110.0,373.3 L114.0,388.1 L119.5,398.0 L121.5,410.0 L122.5,422.5 L132.0,442.5 L147.0,460.0 L157.0,465.0 L172.0,466.2 L187.0,467.5 L194.5,477.5 L202.0,485.0 L205.8,492.5 L202.0,495.0 L200.8,505.0 L197.0,517.5 L189.5,527.5 L178.2,532.5 L182.0,540.0 L180.8,550.0 L184.5,560.0 L187.0,577.5 L197.0,587.5 L217.0,602.5 L229.5,625.0 L239.5,635.0 L244.5,652.5 L257.0,665.0 L262.9,681.4 L279.3,692.3 L301.2,719.6 L317.5,730.6 L320.3,744.2 L325.8,766.1 L339.4,768.8 L347.6,774.3 L350.3,793.4 L344.8,812.5 L350.3,828.9 L353.1,850.8 L364.0,872.7 L369.5,891.8 L399.5,886.3 L454.2,894.5 L497.0,900.0 L505.0,909.0 L519.0,919.0 L523.5,928.0 L527.5,939.5 L542.0,948.0 L561.0,957.0 L566.0,960.0" stroke-width="2.2"/>
<path d="M272.0,450.0 L274.5,437.5 L304.5,405.0 L307.0,397.0 L379.5,354.5 L380.9,347.6 L388.0,351.1 L389.7,340.6 L398.5,337.0 L409.1,330.0 L417.0,324.5 L442.0,332.0 L447.0,322.0 L445.0,312.0 L443.3,297.0 L445.0,287.0 L450.0,278.7 L463.3,275.3 L471.7,268.7 L480.0,265.3 L491.7,268.7 L496.7,275.3 L510.0,280.3 L515.0,287.0 L516.7,297.0 L517.4,310.2 L530.1,315.3 L528.8,330.6 L522.5,338.2 L535.2,340.8 L550.5,351.0 L556.0,358.0 L560.0,366.7 L568.9,372.6 L574.8,378.5 L582.2,383.0 L586.7,390.4 L583.7,400.7 L592.6,408.1 L597.0,420.0 L598.9,435.7 L611.6,443.3 L626.9,450.9 L632.0,466.2 L635.8,476.4 L634.5,491.7 L637.1,504.4 L639.6,517.2 L647.3,529.9 L649.8,542.6 L654.9,555.4 L665.1,563.0 L670.2,578.3 L672.8,593.6 L675.3,603.8 L680.4,621.6 L682.9,636.9 L685.5,654.7 L682.9,664.9 L729.8,664.9 L729.8,828.3 L606.3,828.9 L570.0,828.0 L560.0,818.0 L545.0,812.0 L524.0,816.0 L508.3,818.3 L506.7,815.8 L495.8,815.0 L495.0,782.5 L484.2,781.7 L483.3,768.3 L471.7,768.3 L471.7,754.2 L453.3,754.2 L453.3,738.3 L444.2,738.3 L444.2,723.3 L429.2,723.3 L429.2,720.0 L417.5,708.3 L417.5,694.2 L403.3,694.2 L403.3,665.0 L402.0,665.0 L399.5,657.5 L392.0,645.0 L377.0,635.0 L352.0,612.5 L344.5,600.0 L342.0,580.0 L352.0,575.0 L352.0,547.5 L312.0,505.0 L282.0,487.5 L274.5,472.5 L272.0,462.5 Z" stroke-width="2.3"/>
<path d="M17.0,158.0 L29.5,158.0 L30.8,152.0 L74.5,150.8 L82.0,159.5 L86.0,172.0 L90.5,175.0" stroke-width="2.0"/>
<path d="M124.0,137.0 L122.0,147.0 L127.0,155.0 L123.0,161.0 L123.0,165.0" stroke-width="2.0"/>
<path d="M127.0,155.0 L137.0,154.0 L141.9,165.0" stroke-width="2.0"/>
<path d="M156.9,192.4 L159.5,205.0 L160.8,209.5 L162.0,224.5 L167.0,239.5 L157.0,240.0" stroke-width="2.0"/>
<path d="M148.5,247.4 L147.0,262.2 L148.5,266.7 L123.3,267.4 L121.9,268.1" stroke-width="2.0"/>
<path d="M47.8,253.3 L58.0,266.0 L68.5,278.5" stroke-width="3.5"/>
<path d="M139.6,283.0 L145.6,283.0 L155.9,287.4 L160.4,284.4 L163.3,277.0 L170.7,271.1 L176.7,272.6 L173.7,278.5 L178.1,280.0 L193.0,281.5 L207.8,288.9 L213.7,291.9 L215.2,287.4 L212.2,277.0 L216.7,265.2" stroke-width="4.2"/>
<path d="M178.0,281.0 L190.0,284.0 L205.0,290.0 L214.0,293.0" stroke-width="3.5"/>
<path d="M180.0,279.0 L192.0,280.0 L200.0,283.0 L210.0,286.0" stroke-width="3.0"/>
<path d="M213.7,277.0 L222.6,275.6 L228.5,277.0" stroke-width="2.5"/>
<path d="M225.6,275.6 L228.5,278.5 L227.0,291.9 L230.0,317.0 L231.5,373.3 L240.4,380.7 L246.0,395.0 L246.0,405.0 L244.5,415.0 L249.5,432.5 L264.5,431.2 L272.0,437.5" stroke-width="2.0"/>
<path d="M406.7,137.0 L410.0,149.5 L458.3,207.0 L471.7,220.3 L475.0,233.7 L473.3,243.7 L476.7,253.7 L476.7,262.0 L480.0,265.3" stroke-width="2.0"/>
<path d="M443.3,137.0 L455.0,148.7 L518.3,207.0 L630.0,312.0 L722.0,400.0 L986.0,665.0" stroke-width="3.3"/>
<path d="M658.7,137.0 L769.5,264.4 L784.8,287.3" stroke-width="2.0"/>
<path d="M721.1,214.7 L638.4,311.5 L630.7,312.2" stroke-width="2.0"/>
<path d="M784.8,286.0 L874.0,287.3 L986.0,284.7" stroke-width="2.0"/>
<path d="M584.9,384.0 L700.8,382.8" stroke-width="2.0"/>
<path d="M258.0,664.6 L402.0,664.8" stroke-width="2.0"/>
<path d="M729.8,828.3 L728.7,880.0 L728.7,916.3 L718.1,960.0" stroke-width="1.6"/>
<path d="M878.0,940.0 L876.0,960.0" stroke-width="1.6"/>
<path d="M937.2,940.0 L937.2,960.0" stroke-width="1.6"/>
<path d="M729.8,828.3 L770.0,830.0" stroke-width="1.6"/>
</g>
<path d="M232.9,137.0 L257.2,183.3 L301.8,251.8 L330.2,300.0 L346.4,337.0 L413.6,467.0 L447.9,487.4 L511.1,533.2 L561.1,593.4 L603.3,653.6 L627.0,665.6 L653.7,653.6 L649.7,586.1 L587.8,513.9 L606.3,494.6 L532.6,439.5 L564.1,418.3 L543.1,370.4 L489.5,362.9 L497.7,333.1 L493.0,298.1 L464.5,266.6 L440.3,214.8 L391.7,137.0 Z" fill="#00b050" fill-opacity="0.41" stroke="#2a6a52" stroke-opacity="0.85" stroke-width="1.7" stroke-linejoin="round"/>
<path d="M164.2,559.7 L206.9,558.8 L249.0,578.5 L304.2,665.2 L335.8,715.7 L414.8,778.3 L479.6,782.2 L510.0,779.4 L585.9,757.8 L643.7,762.8 L746.9,804.4 L768.3,821.1 L810.0,840.0 L850.0,885.0 L870.0,960.0 L836.0,960.0 L768.3,876.7 L601.1,821.1 L585.9,818.3 L534.3,825.3 L479.6,837.8 L422.1,847.1 L396.9,882.1 L384.2,960.0 L222.7,960.0 L180.2,827.7 L278.0,819.9 L312.0,812.1 L320.5,796.6 L298.9,775.9 L288.4,737.4 L217.3,660.4 L171.3,590.6 Z" fill="#00b050" fill-opacity="0.41" stroke="#2a6a52" stroke-opacity="0.85" stroke-width="1.7" stroke-linejoin="round"/>
<path d="M384.2,960.0 L396.9,882.1 L422.1,847.1 L479.6,837.8 L534.3,825.3 L585.9,818.3 L601.1,821.1 L768.3,876.7 L836.0,960.0 Z" fill="#ffff00" fill-opacity="0.41" stroke="#2a6a52" stroke-opacity="0.85" stroke-width="1.7" stroke-linejoin="round"/>
<rect x="116.0" y="224.0" width="39.0" height="22.5" fill="#ffffff" fill-opacity="0.45"/>
<rect x="229.5" y="281.5" width="60.5" height="22.5" fill="#ffffff" fill-opacity="0.45"/>
<rect x="351.5" y="276.0" width="50.5" height="22.5" fill="#ffffff" fill-opacity="0.45"/>
<rect x="267.0" y="334.5" width="60.0" height="22.5" fill="#ffffff" fill-opacity="0.45"/>
<rect x="67.0" y="310.8" width="90.5" height="22.5" fill="#ffffff" fill-opacity="0.45"/>
<rect x="151.5" y="348.5" width="58.0" height="22.5" fill="#ffffff" fill-opacity="0.45"/>
<rect x="438.7" y="295.8" width="144.8" height="22.5" fill="#ffffff" fill-opacity="0.45"/>
<rect x="495.3" y="332.9" width="105.2" height="22.5" fill="#ffffff" fill-opacity="0.45"/>
<rect x="604.3" y="381.3" width="48.5" height="22.5" fill="#ffffff" fill-opacity="0.45"/>
<rect x="747.0" y="262.1" width="58.1" height="22.5" fill="#ffffff" fill-opacity="0.45"/>
<rect x="406.5" y="360.6" width="62.5" height="22.5" fill="#ffffff" fill-opacity="0.45"/>
<rect x="337.2" y="390.5" width="51.9" height="22.5" fill="#ffffff" fill-opacity="0.45"/>
<rect x="280.8" y="432.0" width="68.5" height="22.5" fill="#ffffff" fill-opacity="0.45"/>
<rect x="458.1" y="401.6" width="62.4" height="22.5" fill="#ffffff" fill-opacity="0.45"/>
<rect x="399.5" y="448.2" width="52.4" height="22.5" fill="#ffffff" fill-opacity="0.45"/>
<rect x="444.5" y="484.8" width="48.3" height="22.5" fill="#ffffff" fill-opacity="0.45"/>
<rect x="174.5" y="400.0" width="60.0" height="22.5" fill="#ffffff" fill-opacity="0.45"/>
<rect x="116.0" y="461.5" width="73.5" height="22.5" fill="#ffffff" fill-opacity="0.45"/>
<rect x="160.8" y="508.8" width="64.8" height="22.5" fill="#ffffff" fill-opacity="0.45"/>
<rect x="185.2" y="579.5" width="52.8" height="22.5" fill="#ffffff" fill-opacity="0.45"/>
<rect x="249.0" y="574.5" width="63.0" height="22.5" fill="#ffffff" fill-opacity="0.45"/>
<rect x="358.5" y="586.5" width="59.5" height="22.5" fill="#ffffff" fill-opacity="0.45"/>
<rect x="433.0" y="569.0" width="56.0" height="22.5" fill="#ffffff" fill-opacity="0.45"/>
<rect x="399.8" y="624.0" width="48.5" height="22.5" fill="#ffffff" fill-opacity="0.45"/>
<rect x="461.5" y="513.2" width="45.0" height="22.5" fill="#ffffff" fill-opacity="0.45"/>
<rect x="510.6" y="537.3" width="139.6" height="22.5" fill="#ffffff" fill-opacity="0.45"/>
<rect x="507.3" y="553.9" width="47.4" height="22.5" fill="#ffffff" fill-opacity="0.45"/>
<rect x="500.4" y="590.3" width="44.9" height="22.5" fill="#ffffff" fill-opacity="0.45"/>
<rect x="496.1" y="648.6" width="49.7" height="22.5" fill="#ffffff" fill-opacity="0.45"/>
<rect x="813.7" y="457.1" width="47.9" height="22.5" fill="#ffffff" fill-opacity="0.45"/>
<rect x="769.1" y="520.3" width="83.6" height="22.5" fill="#ffffff" fill-opacity="0.45"/>
<rect x="311.2" y="670.8" width="80.2" height="22.5" fill="#ffffff" fill-opacity="0.45"/>
<rect x="269.1" y="745.7" width="103.1" height="22.5" fill="#ffffff" fill-opacity="0.45"/>
<rect x="339.4" y="786.1" width="80.1" height="22.5" fill="#ffffff" fill-opacity="0.45"/>
<rect x="331.2" y="854.4" width="54.7" height="22.5" fill="#ffffff" fill-opacity="0.45"/>
<rect x="572.1" y="674.1" width="86.1" height="22.5" fill="#ffffff" fill-opacity="0.45"/>
<rect x="681.9" y="673.5" width="72.0" height="22.5" fill="#ffffff" fill-opacity="0.45"/>
<rect x="508.5" y="715.1" width="74.6" height="22.5" fill="#ffffff" fill-opacity="0.45"/>
<rect x="480.3" y="753.2" width="31.5" height="22.5" fill="#ffffff" fill-opacity="0.45"/>
<rect x="515.5" y="807.4" width="80.4" height="22.5" fill="#ffffff" fill-opacity="0.45"/>
<rect x="631.4" y="848.1" width="62.9" height="22.5" fill="#ffffff" fill-opacity="0.45"/>
<rect x="774.8" y="795.1" width="56.9" height="22.5" fill="#ffffff" fill-opacity="0.45"/>
<rect x="904.1" y="732.8" width="42.9" height="22.5" fill="#ffffff" fill-opacity="0.45"/>
<circle cx="137.75" cy="245" r="2.7" fill="#ffffff" stroke="#444" stroke-width="1"/>
<circle cx="264.5" cy="302" r="2.7" fill="#ffffff" stroke="#444" stroke-width="1"/>
<circle cx="380.25" cy="297" r="2.7" fill="#ffffff" stroke="#444" stroke-width="1"/>
<circle cx="302.5" cy="355" r="2.7" fill="#ffffff" stroke="#444" stroke-width="1"/>
<circle cx="121.5" cy="331.5" r="2.7" fill="#ffffff" stroke="#444" stroke-width="1"/>
<circle cx="175.75" cy="370" r="2.7" fill="#ffffff" stroke="#444" stroke-width="1"/>
<circle cx="488" cy="316.5" r="2.7" fill="#ffffff" stroke="#444" stroke-width="1"/>
<circle cx="560.2" cy="354" r="2.7" fill="#ffffff" stroke="#444" stroke-width="1"/>
<circle cx="633.3" cy="401.9" r="2.7" fill="#ffffff" stroke="#444" stroke-width="1"/>
<circle cx="781" cy="283.5" r="2.7" fill="#ffffff" stroke="#444" stroke-width="1"/>
<circle cx="433.2" cy="381.4" r="2.7" fill="#ffffff" stroke="#444" stroke-width="1"/>
<circle cx="367.7" cy="411.3" r="2.7" fill="#ffffff" stroke="#444" stroke-width="1"/>
<circle cx="320.75" cy="453" r="2.7" fill="#ffffff" stroke="#444" stroke-width="1"/>
<circle cx="474.1" cy="406.5" r="2.7" fill="#ffffff" stroke="#444" stroke-width="1"/>
<circle cx="421" cy="469" r="2.7" fill="#ffffff" stroke="#444" stroke-width="1"/>
<circle cx="458.3" cy="505" r="2.7" fill="#ffffff" stroke="#444" stroke-width="1"/>
<circle cx="189.5" cy="405" r="2.7" fill="#ffffff" stroke="#444" stroke-width="1"/>
<circle cx="171.25" cy="466.75" r="2.7" fill="#ffffff" stroke="#444" stroke-width="1"/>
<circle cx="188.25" cy="529.5" r="2.7" fill="#ffffff" stroke="#444" stroke-width="1"/>
<circle cx="199.5" cy="584.5" r="2.7" fill="#ffffff" stroke="#444" stroke-width="1"/>
<circle cx="285.75" cy="595" r="2.7" fill="#ffffff" stroke="#444" stroke-width="1"/>
<circle cx="382.75" cy="607" r="2.7" fill="#ffffff" stroke="#444" stroke-width="1"/>
<circle cx="474" cy="574.25" r="2.7" fill="#ffffff" stroke="#444" stroke-width="1"/>
<circle cx="412.5" cy="628.75" r="2.7" fill="#ffffff" stroke="#444" stroke-width="1"/>
<circle cx="478.25" cy="534.5" r="2.7" fill="#ffffff" stroke="#444" stroke-width="1"/>
<circle cx="596.3" cy="557.9" r="2.7" fill="#ffffff" stroke="#444" stroke-width="1"/>
<circle cx="519.4" cy="575.2" r="2.7" fill="#ffffff" stroke="#444" stroke-width="1"/>
<circle cx="512.3" cy="594.9" r="2.7" fill="#ffffff" stroke="#444" stroke-width="1"/>
<circle cx="524.5" cy="669.2" r="2.7" fill="#ffffff" stroke="#444" stroke-width="1"/>
<circle cx="841.4" cy="477.7" r="2.7" fill="#ffffff" stroke="#444" stroke-width="1"/>
<circle cx="819.2" cy="540.9" r="2.7" fill="#ffffff" stroke="#444" stroke-width="1"/>
<circle cx="345.7" cy="691" r="2.7" fill="#ffffff" stroke="#444" stroke-width="1"/>
<circle cx="344.3" cy="750.2" r="2.7" fill="#ffffff" stroke="#444" stroke-width="1"/>
<circle cx="373.8" cy="806.5" r="2.7" fill="#ffffff" stroke="#444" stroke-width="1"/>
<circle cx="370.3" cy="858.4" r="2.7" fill="#ffffff" stroke="#444" stroke-width="1"/>
<circle cx="622.7" cy="695" r="2.7" fill="#ffffff" stroke="#444" stroke-width="1"/>
<circle cx="725.7" cy="693.7" r="2.7" fill="#ffffff" stroke="#444" stroke-width="1"/>
<circle cx="554.4" cy="735.5" r="2.7" fill="#ffffff" stroke="#444" stroke-width="1"/>
<circle cx="498.3" cy="774.2" r="2.7" fill="#ffffff" stroke="#444" stroke-width="1"/>
<circle cx="563.4" cy="828.1" r="2.7" fill="#ffffff" stroke="#444" stroke-width="1"/>
<circle cx="668.3" cy="868.8" r="2.7" fill="#ffffff" stroke="#444" stroke-width="1"/>
<circle cx="808.5" cy="815.3" r="2.7" fill="#ffffff" stroke="#444" stroke-width="1"/>
<circle cx="928.7" cy="753.8" r="2.7" fill="#ffffff" stroke="#444" stroke-width="1"/>
<g font-weight="bold" fill="#151515" stroke="#151515" stroke-width="0.3" font-size="11.8">
<text x="120.5" y="239.5" textLength="30.0" lengthAdjust="spacingAndGlyphs">Napa</text>
<text x="234.0" y="297.0" textLength="51.5" lengthAdjust="spacingAndGlyphs">Stockton</text>
<text x="356.0" y="291.5" textLength="41.5" lengthAdjust="spacingAndGlyphs">Sonora</text>
<text x="271.5" y="350.0" textLength="51.0" lengthAdjust="spacingAndGlyphs">Modesto</text>
<text x="71.5" y="326.2" textLength="81.5" lengthAdjust="spacingAndGlyphs">San Francisco</text>
<text x="156.0" y="364.0" textLength="49.0" lengthAdjust="spacingAndGlyphs">Fremont</text>
<text x="443.2" y="311.3" textLength="135.8" lengthAdjust="spacingAndGlyphs">Yosemite National Park</text>
<text x="499.8" y="348.4" textLength="96.2" lengthAdjust="spacingAndGlyphs">Mammoth Lakes</text>
<text x="608.8" y="396.8" textLength="39.5" lengthAdjust="spacingAndGlyphs">Bishop</text>
<text x="751.5" y="277.6" textLength="49.1" lengthAdjust="spacingAndGlyphs">Tonopah</text>
<text x="411.0" y="376.1" textLength="53.5" lengthAdjust="spacingAndGlyphs">Mariposa</text>
<text x="341.7" y="406.0" textLength="42.9" lengthAdjust="spacingAndGlyphs">Merced</text>
<text x="285.2" y="447.5" textLength="59.5" lengthAdjust="spacingAndGlyphs">Los Banos</text>
<text x="462.6" y="417.1" textLength="53.4" lengthAdjust="spacingAndGlyphs">Oakhurst</text>
<text x="404.0" y="463.7" textLength="43.4" lengthAdjust="spacingAndGlyphs">Madera</text>
<text x="449.0" y="500.3" textLength="39.3" lengthAdjust="spacingAndGlyphs">Fresno</text>
<text x="179.0" y="415.5" textLength="51.0" lengthAdjust="spacingAndGlyphs">San Jose</text>
<text x="120.5" y="477.0" textLength="64.5" lengthAdjust="spacingAndGlyphs">Santa Cruz</text>
<text x="165.2" y="524.2" textLength="55.8" lengthAdjust="spacingAndGlyphs">Monterey</text>
<text x="189.8" y="595.0" textLength="43.8" lengthAdjust="spacingAndGlyphs">Big Sur</text>
<text x="253.5" y="590.0" textLength="54.0" lengthAdjust="spacingAndGlyphs">King City</text>
<text x="363.0" y="602.0" textLength="50.5" lengthAdjust="spacingAndGlyphs">Coalinga</text>
<text x="437.5" y="584.5" textLength="47.0" lengthAdjust="spacingAndGlyphs">Hanford</text>
<text x="404.2" y="639.5" textLength="39.5" lengthAdjust="spacingAndGlyphs">Avenal</text>
<text x="466.0" y="528.8" textLength="36.0" lengthAdjust="spacingAndGlyphs">Selma</text>
<text x="515.1" y="552.8" textLength="130.6" lengthAdjust="spacingAndGlyphs">Sequoia National Park</text>
<text x="511.8" y="569.4" textLength="38.4" lengthAdjust="spacingAndGlyphs">Visalia</text>
<text x="504.9" y="605.8" textLength="35.9" lengthAdjust="spacingAndGlyphs">Tulare</text>
<text x="500.6" y="664.1" textLength="40.7" lengthAdjust="spacingAndGlyphs">Delano</text>
<text x="818.2" y="472.6" textLength="38.9" lengthAdjust="spacingAndGlyphs">Beatty</text>
<text x="773.6" y="535.8" textLength="74.6" lengthAdjust="spacingAndGlyphs">Death Valley</text>
<text x="315.7" y="686.3" textLength="71.2" lengthAdjust="spacingAndGlyphs">Paso Robles</text>
<text x="273.6" y="761.2" textLength="94.1" lengthAdjust="spacingAndGlyphs">San Luis Obispo</text>
<text x="343.9" y="801.6" textLength="71.1" lengthAdjust="spacingAndGlyphs">Santa Maria</text>
<text x="335.7" y="869.9" textLength="45.7" lengthAdjust="spacingAndGlyphs">Lompoc</text>
<text x="576.6" y="689.6" textLength="77.1" lengthAdjust="spacingAndGlyphs">Lake Isabella</text>
<text x="686.4" y="689.0" textLength="63.0" lengthAdjust="spacingAndGlyphs">Ridgecrest</text>
<text x="513.0" y="730.6" textLength="65.6" lengthAdjust="spacingAndGlyphs">Bakersfield</text>
<text x="484.8" y="768.7" textLength="22.5" lengthAdjust="spacingAndGlyphs">Taft</text>
<text x="520.0" y="822.9" textLength="71.4" lengthAdjust="spacingAndGlyphs">Frazier Park</text>
<text x="635.9" y="863.6" textLength="53.9" lengthAdjust="spacingAndGlyphs">Palmdale</text>
<text x="779.3" y="810.6" textLength="47.9" lengthAdjust="spacingAndGlyphs">Barstow</text>
<text x="908.6" y="748.3" textLength="33.9" lengthAdjust="spacingAndGlyphs">Baker</text>
</g>
<g transform="translate(72.1,908.4) scale(0.6813,0.7780)">
  <circle r="45.5" fill="#1b93da"/>
  <path d="M-45,-12.3 C-34,-7 -18,14 0,14.5 C12,14 28,-2 39.5,-20 A45.5,45.5 0 0 0 -45,-12.3 Z" fill="#ffffff"/>
  <path d="M-36.6,-26.7 C-30,-14 -16,8 1.7,8.9 C18,9 30,-12 36.1,-27.3 A45.5,45.5 0 0 0 -36.6,-26.7 Z" fill="#123c92"/>
  <path d="M-17,19.5 C-6,13.5 8,9.5 23,9 C19,12.5 6,14.5 -4,18.5 C-9,20.5 -14,21.5 -17,19.5 Z" fill="#ffffff"/>
  <text x="-0.5" y="-15" text-anchor="middle" font-family="Liberation Sans, sans-serif" font-weight="bold" font-size="16" fill="#ffffff" textLength="37.8" lengthAdjust="spacingAndGlyphs">NOAA</text>
</g>
<g transform="translate(158.6,908.4) scale(0.5451,0.6265)">
  <circle r="56.5" fill="#ffffff"/>
  <clipPath id="nwsmRc"><circle r="34"/></clipPath>
  <g clip-path="url(#nwsmRc)">
    <rect x="-35" y="-35" width="70" height="70" fill="#ffffff"/>
    <rect x="-35" y="-35" width="70" height="30" fill="#3aa4e0"/>
    <path d="M-35,27 C-26,23 -18,28 -9,25 C0,22 8,27 16,24 C24,21 30,25 35,23 L35,35 L-35,35 Z" fill="#3aa4e0"/>
    <path d="M-35,26 C-26,22 -18,27 -9,24 C0,21 8,26 16,23 C24,20 30,24 35,22" fill="none" stroke="#1b1b9a" stroke-width="0.8"/>
    <g stroke="#1b1b9a" stroke-width="1" fill="none"><path d="M0,-34 L0,-20"/><path d="M-15,-31 L-10,-19"/><path d="M15,-31 L10,-19"/><path d="M-26,-22 L-18,-14"/><path d="M26,-22 L18,-14"/></g>
  </g>
  <circle r="34" fill="none" stroke="#1b1b9a" stroke-width="1.1"/>
  <path d="M-41,6 C-43,-4 -36,-12 -28,-11 C-24,-18 -14,-19 -8,-15 C-4,-22 10,-25 16,-19 C22,-20 30,-16 30,-10 C37,-11 42,-5 39,1 C41,7 36,11 30,10 C28,16 20,18 14,15 C10,22 0,24 -4,19 C-10,22 -20,21 -22,15 C-28,17 -38,14 -36,9 C-40,9 -42,8 -41,6 Z" fill="#0c0ca0"/>
  <path d="M-29.2,-29.8 L-18.3,-29.8 L-6.9,-15.1 L-10.1,-14 L5.2,-0.9 L-0.3,0.2 L15,13.3 L9.5,14.4 L26.5,28.6 L6.3,14.4 L11.7,13.3 L-5.8,0.2 L0.8,-0.9 L-16.7,-14 L-12.3,-15.1 Z" fill="#ffffff" stroke="#1b1b9a" stroke-width="0.8" stroke-linejoin="round"/>
  <defs><path id="nwsmRT" d="M-26.36,34.98 A43.8,43.8 0 1 1 26.36,34.98"/></defs>
  <text font-family="Liberation Sans, sans-serif" font-weight="bold" font-size="13.6" fill="#e8232b" stroke="#e8232b" stroke-width="0.5"><textPath href="#nwsmRT" textLength="216.6" lengthAdjust="spacingAndGlyphs">NATIONAL WEATHER SERVICE</textPath></text>
  <g fill="#2b2b9c"><path d="M-14.5,44.4 L-13.8,46.3 L-11.7,46.4 L-13.3,47.7 L-12.8,49.6 L-14.5,48.5 L-16.2,49.6 L-15.7,47.7 L-17.3,46.4 L-15.2,46.3 Z"/><path d="M12.8,44.4 L13.5,46.3 L15.6,46.4 L14.0,47.7 L14.5,49.6 L12.8,48.5 L11.1,49.6 L11.6,47.7 L10.0,46.4 L12.1,46.3 Z"/></g>
  <path d="M-1.4,44.4 L-0.4,47.2 L2.6,47.3 L0.3,49.1 L1.1,52.0 L-1.4,50.4 L-3.9,52.0 L-3.1,49.1 L-5.4,47.3 L-2.4,47.2 Z" fill="#e8232b"/>
</g>
<rect x="90.5" y="164.4" width="85.4" height="28" fill="#f6f6ea" stroke="#222" stroke-width="1"/>
<text x="92.7" y="175.6" font-size="9.6" font-weight="normal" text-anchor="start" fill="#333" textLength="80.7" lengthAdjust="spacingAndGlyphs">Highlighted Area:</text>
<text x="92.9" y="185.8" font-size="9.6" font-weight="normal" text-anchor="start" fill="#333" textLength="80.5" lengthAdjust="spacingAndGlyphs">WFO Hanford, CA</text>
<rect x="392.5" y="150.6" width="219.1" height="55.8" fill="#f6f6ea" stroke="#222" stroke-width="1.2"/>
<text x="397.7" y="165.9" font-size="14.2" font-weight="bold" text-anchor="start" fill="#111" textLength="208.5" lengthAdjust="spacingAndGlyphs">Weather Prediction Center</text>
<text x="398.3" y="182.0" font-size="14.2" font-weight="bold" text-anchor="start" fill="#111" textLength="206.3" lengthAdjust="spacingAndGlyphs">Excessive Rainfall Outlook</text>
<text x="394.7" y="197.8" font-size="14.2" font-weight="bold" text-anchor="start" fill="#111" textLength="214.6" lengthAdjust="spacingAndGlyphs">Thursday, January 01, 2026</text>
<rect x="789.3" y="148.3" width="139.9" height="60" fill="#f6f6ea" stroke="#222" stroke-width="1"/>
<text x="859.4" y="158.6" font-size="9" font-weight="normal" text-anchor="middle" fill="#2a2a2a" textLength="27.2" lengthAdjust="spacingAndGlyphs">Day 3</text>
<text x="859.4" y="169.8" font-size="9" font-weight="normal" text-anchor="middle" fill="#333" textLength="58.9" lengthAdjust="spacingAndGlyphs">Issued Time:</text>
<text x="859.6" y="180.9" font-size="9" font-weight="normal" text-anchor="middle" fill="#333" textLength="99.1" lengthAdjust="spacingAndGlyphs">2025-12-30 18:54:00</text>
<text x="859.2" y="191.5" font-size="9" font-weight="normal" text-anchor="middle" fill="#333" textLength="51.8" lengthAdjust="spacingAndGlyphs">Valid Time:</text>
<text x="859.6" y="202.6" font-size="9" font-weight="normal" text-anchor="middle" fill="#333" textLength="135.1" lengthAdjust="spacingAndGlyphs">12Z 01/01/26 - 12Z 01/02/26</text>
<rect x="769" y="821.7" width="211.8" height="131.6" rx="2" fill="#f6f6ea" stroke="#333" stroke-width="1.1"/>
<text x="771.7" y="836.5" font-size="12.6" font-weight="bold" text-anchor="start" fill="#111" textLength="206.0" lengthAdjust="spacingAndGlyphs">Probability of excessive rainfall</text>
<text x="771.7" y="851.2" font-size="12.6" font-weight="bold" text-anchor="start" fill="#111" textLength="170.4" lengthAdjust="spacingAndGlyphs">leading to flash flooding.*</text>
<rect x="788.9" y="860" width="19.3" height="8.5" fill="#ff00ff"/>
<text x="814.4" y="867.4" font-size="9.8" font-weight="normal" text-anchor="start" fill="#333" textLength="107.9" lengthAdjust="spacingAndGlyphs">High Risk, At least 70%</text>
<rect x="788.9" y="874" width="19.3" height="8.5" fill="#ff0000"/>
<text x="814.4" y="881.4" font-size="9.8" font-weight="normal" text-anchor="start" fill="#333" textLength="130.7" lengthAdjust="spacingAndGlyphs">Moderate Risk, At least 40%</text>
<rect x="788.9" y="888.8" width="19.3" height="8.5" fill="#ffff00"/>
<text x="814.4" y="896.2" font-size="9.8" font-weight="normal" text-anchor="start" fill="#333" textLength="113.2" lengthAdjust="spacingAndGlyphs">Slight Risk, At least 15%</text>
<rect x="788.9" y="903" width="19.3" height="8.5" fill="#00b050"/>
<text x="814.4" y="910.4" font-size="9.8" font-weight="normal" text-anchor="start" fill="#333" textLength="120.4" lengthAdjust="spacingAndGlyphs">Marginal Risk, At least 5%</text>
<text x="814.4" y="925.7" font-size="9.4" font-weight="normal" text-anchor="start" fill="#333" textLength="129.4" lengthAdjust="spacingAndGlyphs">* Within 25 miles of a point.</text>
<text x="814.4" y="936.5" font-size="9.4" font-weight="normal" text-anchor="start" fill="#333" textLength="128.4" lengthAdjust="spacingAndGlyphs">May not represent localized</text>
<text x="814.4" y="947.2" font-size="9.4" font-weight="normal" text-anchor="start" fill="#333" textLength="146.1" lengthAdjust="spacingAndGlyphs">flooding threat over burn scars.</text>
</g>
<rect x="17" y="137" width="969" height="823" fill="none" stroke="#111" stroke-width="1.5"/>
</g>
</svg>
<svg class="abs" style="left:0;top:960px" width="1920" height="120" viewBox="0 960 1920 120">
  <text x="25.2" y="1018" font-family="Liberation Sans, sans-serif" font-weight="bold" font-size="32.5" fill="#000" textLength="1795.2" lengthAdjust="spacingAndGlyphs">5%-15% Probability of excessive rainfall leading to flash flooding in Green and Yellow shaded areas, respectively.</text>
  <text x="1903.2" y="1055.8" font-family="Liberation Sans, sans-serif" font-size="23" fill="#595959" text-anchor="end" textLength="28.2" lengthAdjust="spacingAndGlyphs">10</text>
</svg>
</body></html>
